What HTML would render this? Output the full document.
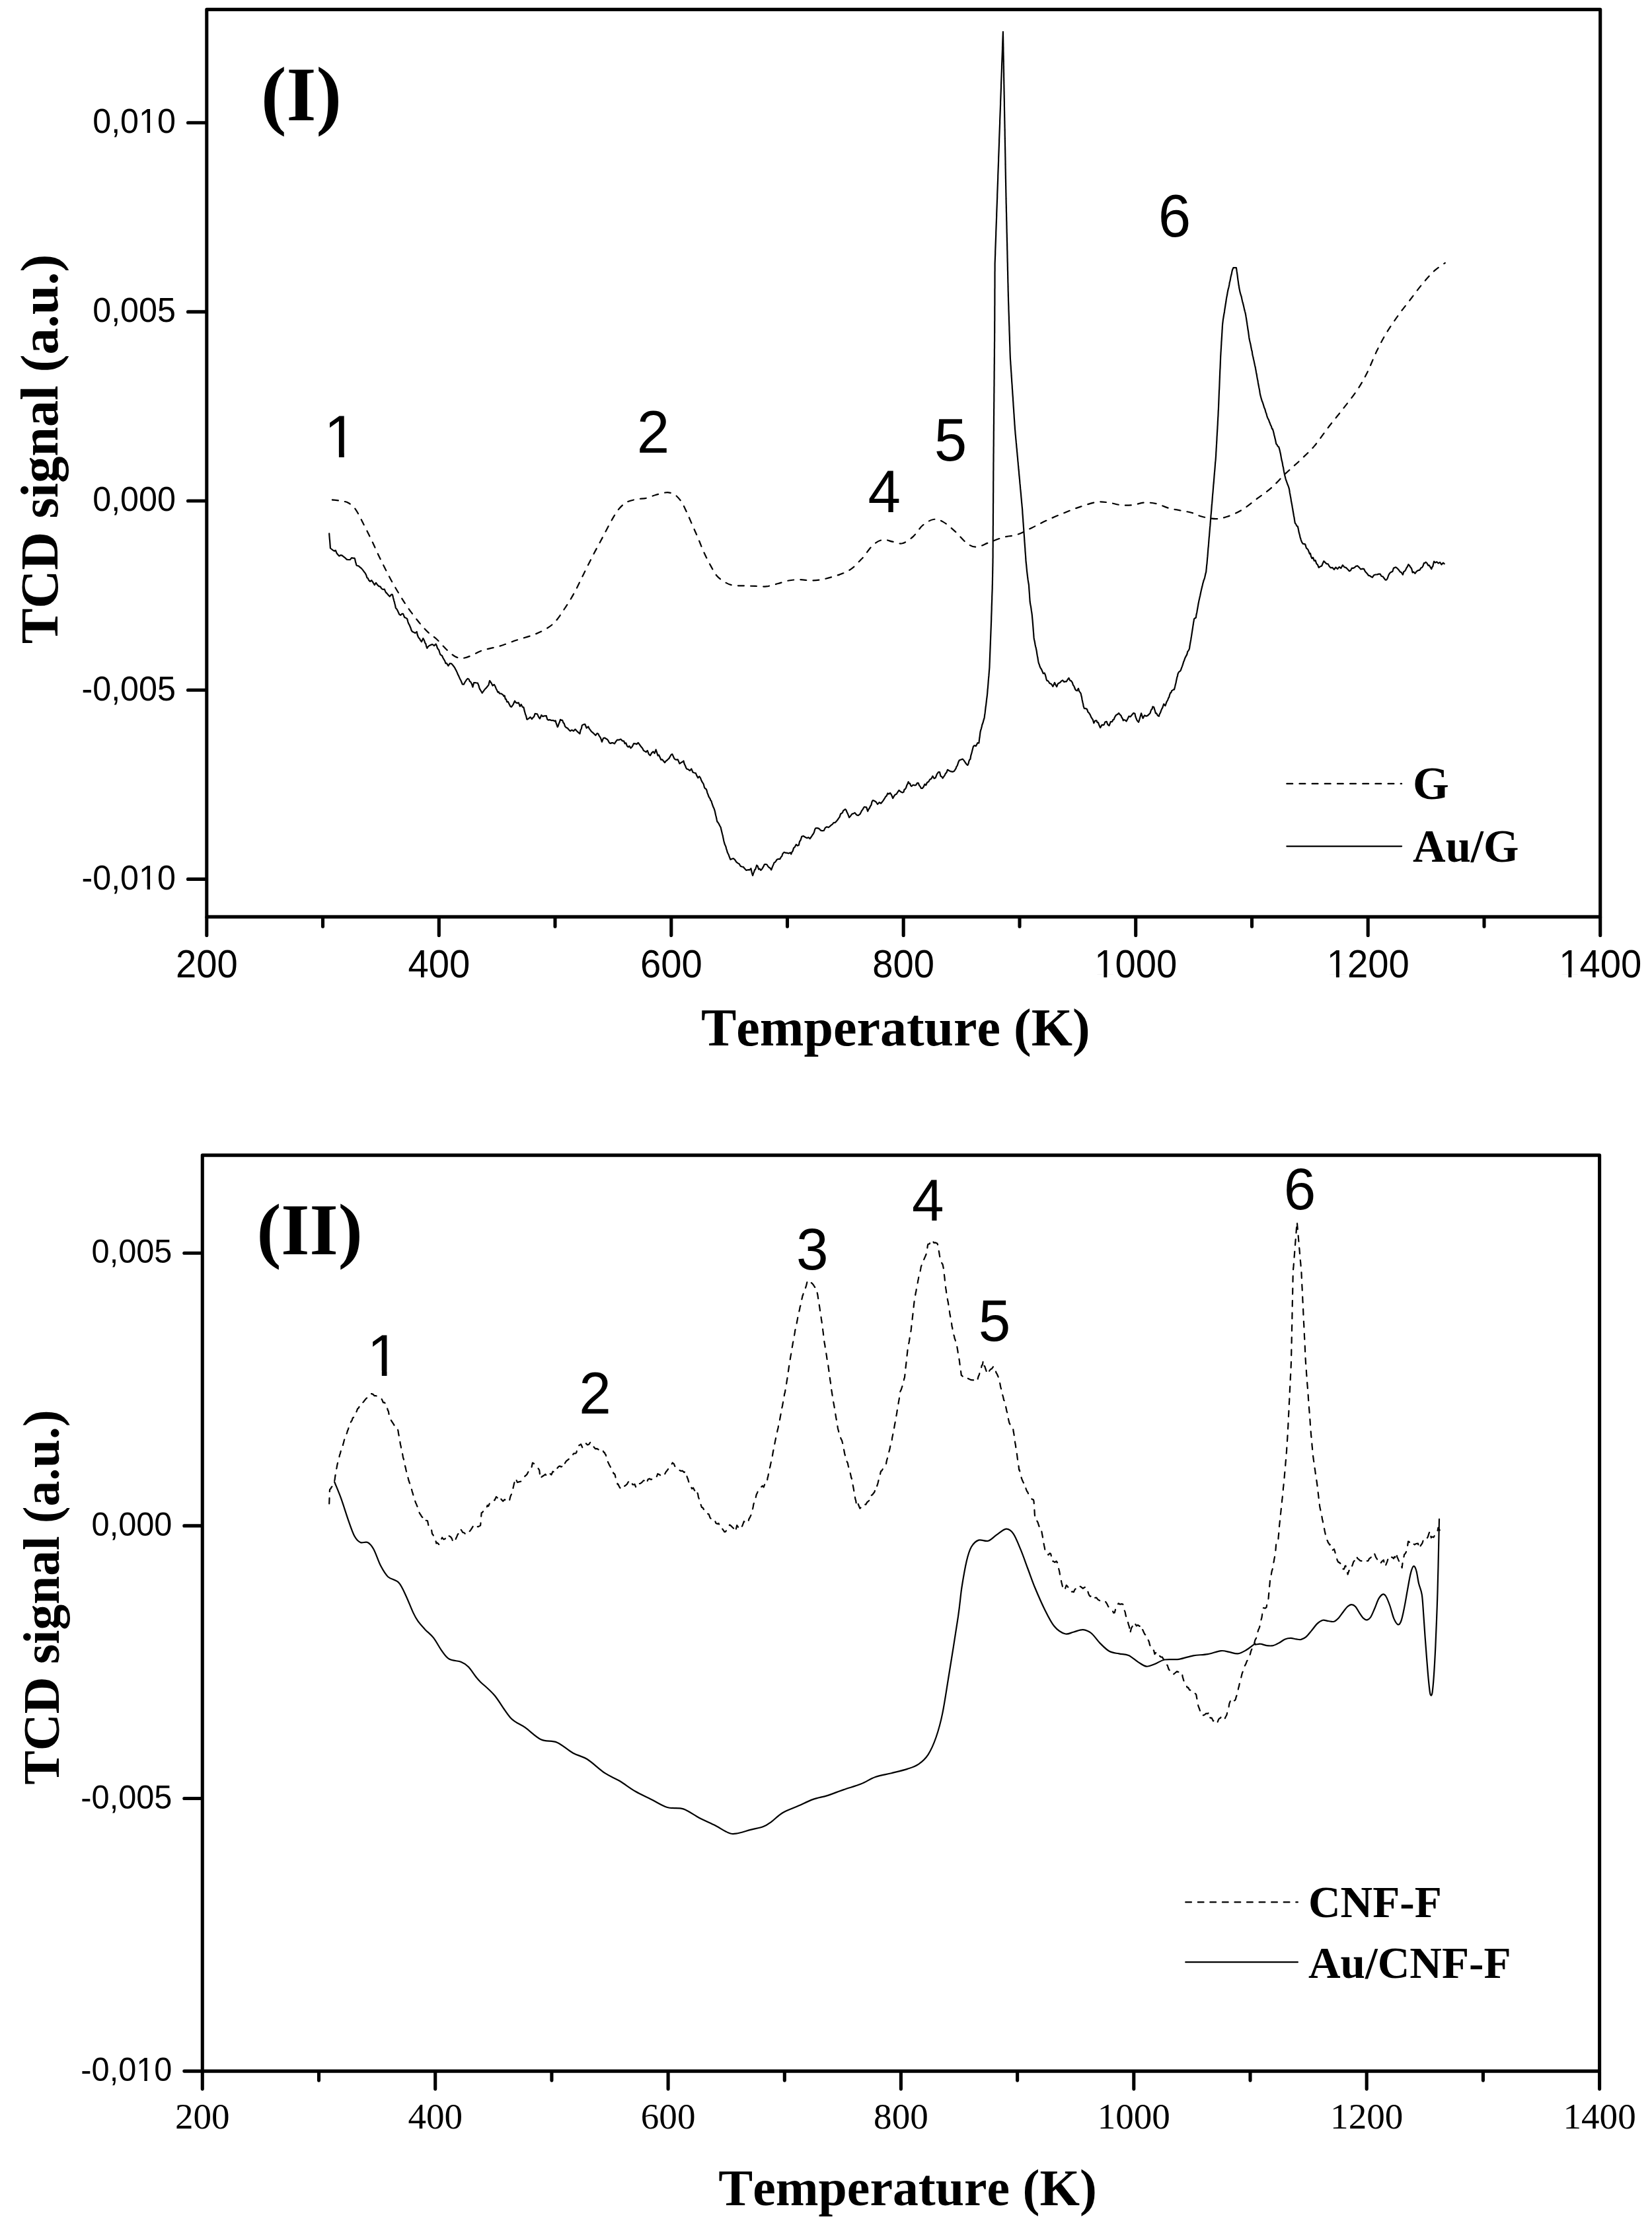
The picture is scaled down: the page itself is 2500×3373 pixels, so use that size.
<!DOCTYPE html>
<html lang="en"><head><meta charset="utf-8"><title>TCD signal vs Temperature</title>
<style>html,body{margin:0;padding:0;background:#fff;width:2500px;height:3373px;overflow:hidden}svg{display:block}text{font-kerning:none;font-variant-ligatures:none}</style></head>
<body>
<svg width="2500" height="3373" viewBox="0 0 2500 3373">
<rect width="2500" height="3373" fill="#fff"/>
<g fill="none" stroke="#000" stroke-width="5.1" stroke-linejoin="round">
<rect x="312.8" y="14.4" width="2108.8999999999996" height="1373.0"/>
<rect x="306.3" y="1748.1" width="2114.2999999999997" height="1386.0"/>
</g>
<g fill="none" stroke="#000" stroke-width="5.1" stroke-linecap="round">
<line x1="284.5" y1="185.7" x2="311.8" y2="185.7"/>
<line x1="284.5" y1="471.9" x2="311.8" y2="471.9"/>
<line x1="284.5" y1="758.0" x2="311.8" y2="758.0"/>
<line x1="284.5" y1="1044.2" x2="311.8" y2="1044.2"/>
<line x1="284.5" y1="1330.4" x2="311.8" y2="1330.4"/>
<line x1="312.8" y1="1388.4" x2="312.8" y2="1415.4"/>
<line x1="488.5" y1="1388.4" x2="488.5" y2="1401.9"/>
<line x1="664.3" y1="1388.4" x2="664.3" y2="1415.4"/>
<line x1="840.0" y1="1388.4" x2="840.0" y2="1401.9"/>
<line x1="1015.8" y1="1388.4" x2="1015.8" y2="1415.4"/>
<line x1="1191.5" y1="1388.4" x2="1191.5" y2="1401.9"/>
<line x1="1367.2" y1="1388.4" x2="1367.2" y2="1415.4"/>
<line x1="1543.0" y1="1388.4" x2="1543.0" y2="1401.9"/>
<line x1="1718.7" y1="1388.4" x2="1718.7" y2="1415.4"/>
<line x1="1894.5" y1="1388.4" x2="1894.5" y2="1401.9"/>
<line x1="2070.2" y1="1388.4" x2="2070.2" y2="1415.4"/>
<line x1="2246.0" y1="1388.4" x2="2246.0" y2="1401.9"/>
<line x1="2421.7" y1="1388.4" x2="2421.7" y2="1415.4"/>
<line x1="278.8" y1="1896.3" x2="305.3" y2="1896.3"/>
<line x1="278.8" y1="2308.9" x2="305.3" y2="2308.9"/>
<line x1="278.8" y1="2721.5" x2="305.3" y2="2721.5"/>
<line x1="278.8" y1="3134.1" x2="305.3" y2="3134.1"/>
<line x1="306.3" y1="3135.1" x2="306.3" y2="3161.1"/>
<line x1="482.5" y1="3135.1" x2="482.5" y2="3148.1"/>
<line x1="658.7" y1="3135.1" x2="658.7" y2="3161.1"/>
<line x1="834.9" y1="3135.1" x2="834.9" y2="3148.1"/>
<line x1="1011.1" y1="3135.1" x2="1011.1" y2="3161.1"/>
<line x1="1187.3" y1="3135.1" x2="1187.3" y2="3148.1"/>
<line x1="1363.4" y1="3135.1" x2="1363.4" y2="3161.1"/>
<line x1="1539.6" y1="3135.1" x2="1539.6" y2="3148.1"/>
<line x1="1715.8" y1="3135.1" x2="1715.8" y2="3161.1"/>
<line x1="1892.0" y1="3135.1" x2="1892.0" y2="3148.1"/>
<line x1="2068.2" y1="3135.1" x2="2068.2" y2="3161.1"/>
<line x1="2244.4" y1="3135.1" x2="2244.4" y2="3148.1"/>
<line x1="2420.6" y1="3135.1" x2="2420.6" y2="3161.1"/>
</g>
<text transform="translate(266.0,201.0) scale(1,1.04)" font-size="50.3" font-family="'Liberation Sans', sans-serif" text-anchor="end" font-weight="normal" >0,010</text>
<text transform="translate(266.0,487.2) scale(1,1.04)" font-size="50.3" font-family="'Liberation Sans', sans-serif" text-anchor="end" font-weight="normal" >0,005</text>
<text transform="translate(266.0,773.3) scale(1,1.04)" font-size="50.3" font-family="'Liberation Sans', sans-serif" text-anchor="end" font-weight="normal" >0,000</text>
<text transform="translate(266.0,1059.5) scale(1,1.04)" font-size="50.3" font-family="'Liberation Sans', sans-serif" text-anchor="end" font-weight="normal" >-0,005</text>
<text transform="translate(266.0,1345.7) scale(1,1.04)" font-size="50.3" font-family="'Liberation Sans', sans-serif" text-anchor="end" font-weight="normal" >-0,010</text>
<text transform="translate(260.4,1911.4) scale(1,1.04)" font-size="48.7" font-family="'Liberation Sans', sans-serif" text-anchor="end" font-weight="normal" >0,005</text>
<text transform="translate(260.4,2324.0) scale(1,1.04)" font-size="48.7" font-family="'Liberation Sans', sans-serif" text-anchor="end" font-weight="normal" >0,000</text>
<text transform="translate(260.4,2736.6) scale(1,1.04)" font-size="48.7" font-family="'Liberation Sans', sans-serif" text-anchor="end" font-weight="normal" >-0,005</text>
<text transform="translate(260.4,3149.2) scale(1,1.04)" font-size="48.7" font-family="'Liberation Sans', sans-serif" text-anchor="end" font-weight="normal" >-0,010</text>
<text transform="translate(312.8,1479.0) scale(1,1.04)" font-size="56.2" font-family="'Liberation Sans', sans-serif" text-anchor="middle" font-weight="normal" >200</text>
<text transform="translate(306.3,3221.2) scale(1,1.012)" font-size="55.1" font-family="'Liberation Serif', serif" text-anchor="middle" font-weight="normal" >200</text>
<text transform="translate(664.3,1479.0) scale(1,1.04)" font-size="56.2" font-family="'Liberation Sans', sans-serif" text-anchor="middle" font-weight="normal" >400</text>
<text transform="translate(658.7,3221.2) scale(1,1.012)" font-size="55.1" font-family="'Liberation Serif', serif" text-anchor="middle" font-weight="normal" >400</text>
<text transform="translate(1015.8,1479.0) scale(1,1.04)" font-size="56.2" font-family="'Liberation Sans', sans-serif" text-anchor="middle" font-weight="normal" >600</text>
<text transform="translate(1011.1,3221.2) scale(1,1.012)" font-size="55.1" font-family="'Liberation Serif', serif" text-anchor="middle" font-weight="normal" >600</text>
<text transform="translate(1367.2,1479.0) scale(1,1.04)" font-size="56.2" font-family="'Liberation Sans', sans-serif" text-anchor="middle" font-weight="normal" >800</text>
<text transform="translate(1363.4,3221.2) scale(1,1.012)" font-size="55.1" font-family="'Liberation Serif', serif" text-anchor="middle" font-weight="normal" >800</text>
<text transform="translate(1718.7,1479.0) scale(1,1.04)" font-size="56.2" font-family="'Liberation Sans', sans-serif" text-anchor="middle" font-weight="normal" >1000</text>
<text transform="translate(1715.8,3221.2) scale(1,1.012)" font-size="55.1" font-family="'Liberation Serif', serif" text-anchor="middle" font-weight="normal" >1000</text>
<text transform="translate(2070.2,1479.0) scale(1,1.04)" font-size="56.2" font-family="'Liberation Sans', sans-serif" text-anchor="middle" font-weight="normal" >1200</text>
<text transform="translate(2068.2,3221.2) scale(1,1.012)" font-size="55.1" font-family="'Liberation Serif', serif" text-anchor="middle" font-weight="normal" >1200</text>
<text transform="translate(2421.7,1479.0) scale(1,1.04)" font-size="56.2" font-family="'Liberation Sans', sans-serif" text-anchor="middle" font-weight="normal" >1400</text>
<text transform="translate(2420.6,3221.2) scale(1,1.012)" font-size="55.1" font-family="'Liberation Serif', serif" text-anchor="middle" font-weight="normal" >1400</text>
<text x="1355.3" y="1582.2" font-size="80" font-family="'Liberation Serif', serif" text-anchor="middle" font-weight="bold" >Temperature (K)</text>
<text x="1373.6" y="3336.6" font-size="77.8" font-family="'Liberation Serif', serif" text-anchor="middle" font-weight="bold" >Temperature (K)</text>
<text transform="translate(86.6,679.5) rotate(-90)" font-size="80.4" font-family="'Liberation Serif', serif" text-anchor="middle" font-weight="bold">TCD signal (a.u.)</text>
<text transform="translate(89,2417) rotate(-90)" font-size="77.4" font-family="'Liberation Serif', serif" text-anchor="middle" font-weight="bold">TCD signal (a.u.)</text>
<text x="395.0" y="182.0" font-size="115.5" font-family="'Liberation Serif', serif" text-anchor="start" font-weight="bold" >(I)</text>
<text x="388.4" y="1897.6" font-size="111" font-family="'Liberation Serif', serif" text-anchor="start" font-weight="bold" >(II)</text>
<text transform="translate(515.3,692.2) scale(1,1.025)" font-size="89" font-family="'Liberation Sans', sans-serif" text-anchor="middle" font-weight="normal" >1</text>
<text transform="translate(988.5,685.0) scale(1,1.025)" font-size="89" font-family="'Liberation Sans', sans-serif" text-anchor="middle" font-weight="normal" >2</text>
<text transform="translate(1338.2,774.8) scale(1,1.025)" font-size="89" font-family="'Liberation Sans', sans-serif" text-anchor="middle" font-weight="normal" >4</text>
<text transform="translate(1438.4,697.0) scale(1,1.025)" font-size="89" font-family="'Liberation Sans', sans-serif" text-anchor="middle" font-weight="normal" >5</text>
<text transform="translate(1777.4,358.3) scale(1,1.025)" font-size="89" font-family="'Liberation Sans', sans-serif" text-anchor="middle" font-weight="normal" >6</text>
<text transform="translate(580.1,2081.5) scale(1,1.025)" font-size="87.3" font-family="'Liberation Sans', sans-serif" text-anchor="middle" font-weight="normal" >1</text>
<text transform="translate(900.6,2138.5) scale(1,1.025)" font-size="87.3" font-family="'Liberation Sans', sans-serif" text-anchor="middle" font-weight="normal" >2</text>
<text transform="translate(1229.3,1920.5) scale(1,1.025)" font-size="87.3" font-family="'Liberation Sans', sans-serif" text-anchor="middle" font-weight="normal" >3</text>
<text transform="translate(1404.3,1847.3) scale(1,1.025)" font-size="87.3" font-family="'Liberation Sans', sans-serif" text-anchor="middle" font-weight="normal" >4</text>
<text transform="translate(1505.0,2029.2) scale(1,1.025)" font-size="87.3" font-family="'Liberation Sans', sans-serif" text-anchor="middle" font-weight="normal" >5</text>
<text transform="translate(1967.0,1829.9) scale(1,1.025)" font-size="87.3" font-family="'Liberation Sans', sans-serif" text-anchor="middle" font-weight="normal" >6</text>
<rect x="213.1" y="196.6" width="9.6" height="5.5" fill="#fff"/>
<rect x="227.1" y="196.6" width="9.2" height="5.5" fill="#fff"/>
<rect x="213.1" y="1341.3" width="9.6" height="5.5" fill="#fff"/>
<rect x="227.1" y="1341.3" width="9.2" height="5.5" fill="#fff"/>
<rect x="209.1" y="3144.9" width="9.3" height="5.4" fill="#fff"/>
<rect x="222.8" y="3144.9" width="9.0" height="5.4" fill="#fff"/>
<rect x="1659.7" y="1474.1" width="10.7" height="6.0" fill="#fff"/>
<rect x="1675.3" y="1474.1" width="10.2" height="6.0" fill="#fff"/>
<rect x="2011.2" y="1474.1" width="10.7" height="6.0" fill="#fff"/>
<rect x="2026.8" y="1474.1" width="10.2" height="6.0" fill="#fff"/>
<rect x="2362.7" y="1474.1" width="10.7" height="6.0" fill="#fff"/>
<rect x="2378.3" y="1474.1" width="10.2" height="6.0" fill="#fff"/>
<rect x="496.1" y="684.9" width="16.8" height="8.4" fill="#fff"/>
<rect x="520.8" y="684.9" width="16.1" height="8.4" fill="#fff"/>
<rect x="561.3" y="2074.3" width="16.5" height="8.3" fill="#fff"/>
<rect x="585.5" y="2074.3" width="15.8" height="8.3" fill="#fff"/>
<g fill="none" stroke="#000" stroke-width="2.2" stroke-linecap="round">
<line x1="1947.3" y1="1185.9" x2="2121.1" y2="1185.9" stroke-dasharray="8.9 10.25"/>
<line x1="1947.3" y1="1280.6" x2="2121.1" y2="1280.6"/>
<line x1="1794.2" y1="2878.45" x2="1963.9" y2="2878.45" stroke-dasharray="8.8 9.76"/>
<line x1="1794.2" y1="2969.2" x2="1963.9" y2="2969.2"/>
</g>
<text x="2138.0" y="1209.3" font-size="70.5" font-family="'Liberation Serif', serif" text-anchor="start" font-weight="bold" >G</text>
<text x="2138.0" y="1303.8" font-size="70.5" font-family="'Liberation Serif', serif" text-anchor="start" font-weight="bold" textLength="160.4" lengthAdjust="spacingAndGlyphs">Au/G</text>
<text x="1980.0" y="2901.0" font-size="67.3" font-family="'Liberation Serif', serif" text-anchor="start" font-weight="bold" >CNF-F</text>
<text x="1980.0" y="2992.6" font-size="67.3" font-family="'Liberation Serif', serif" text-anchor="start" font-weight="bold" >Au/CNF-F</text>
<g fill="none" stroke="#000" stroke-width="2.2" stroke-linejoin="round" stroke-linecap="round">
<path d="M502.9,756.3 C505.1,756.6 512.3,757.3 516.3,758.1 C520.4,758.9 523.6,758.9 527.2,761.0 C530.8,763.1 534.5,765.9 538.1,770.8 C541.7,775.8 545.1,783.2 549.0,790.8 C552.9,798.4 557.5,807.4 561.7,816.2 C566.0,825.0 569.9,834.1 574.4,843.5 C579.0,852.8 584.1,863.4 589.0,872.5 C593.8,881.6 598.9,890.4 603.5,897.9 C608.0,905.5 611.4,911.0 616.2,917.9 C621.0,924.9 627.4,933.4 632.5,939.7 C637.7,946.1 642.2,951.3 647.1,956.1 C651.9,960.8 656.8,963.5 661.6,968.0 C666.4,972.6 671.6,979.1 676.1,983.3 C680.7,987.5 684.9,991.3 688.8,993.5 C692.8,995.6 695.8,996.2 699.7,996.0 C703.7,995.8 707.3,994.4 712.4,992.4 C717.6,990.4 723.3,986.4 730.6,984.0 C737.9,981.6 747.6,980.4 756.0,977.8 C764.5,975.3 773.0,971.6 781.5,968.8 C789.9,965.9 799.6,963.5 806.9,960.8 C814.1,958.1 819.6,955.6 825.0,952.4 C830.5,949.2 834.7,946.7 839.6,941.5 C844.4,936.4 849.2,928.8 854.1,921.5 C858.9,914.3 863.8,906.7 868.6,897.9 C873.5,889.2 878.3,878.6 883.1,868.9 C888.0,859.2 892.8,849.2 897.7,839.8 C902.5,830.4 907.4,821.7 912.2,812.6 C917.0,803.5 922.5,792.6 926.7,785.4 C931.0,778.1 934.0,773.2 937.6,769.0 C941.3,764.8 944.3,762.2 948.5,759.9 C952.8,757.7 958.2,756.6 963.1,755.6 C967.9,754.5 972.7,754.8 977.6,753.8 C982.4,752.7 987.8,750.3 992.1,749.0 C996.4,747.7 1000.3,746.6 1003.6,746.0 C1007.0,745.4 1009.1,744.8 1012.1,745.3 C1015.1,745.8 1018.6,746.5 1021.8,748.9 C1025.0,751.3 1028.5,755.2 1031.5,759.8 C1034.5,764.4 1037.1,770.7 1040.0,776.8 C1042.8,782.8 1045.6,789.7 1048.4,796.1 C1051.3,802.6 1054.1,808.8 1056.9,815.5 C1059.7,822.2 1062.3,829.4 1065.4,836.1 C1068.4,842.7 1071.8,849.6 1075.1,855.4 C1078.3,861.3 1081.1,866.9 1084.7,871.2 C1088.4,875.4 1092.8,878.5 1096.9,880.9 C1100.9,883.3 1104.1,884.8 1109.0,885.7 C1113.8,886.6 1120.3,886.2 1125.9,886.4 C1131.6,886.6 1137.2,886.8 1142.9,886.9 C1148.5,887.1 1154.2,888.0 1159.8,887.4 C1165.5,886.8 1171.1,884.8 1176.8,883.3 C1182.4,881.8 1188.1,879.5 1193.7,878.5 C1199.4,877.4 1205.0,877.2 1210.7,877.2 C1216.3,877.2 1222.0,878.5 1227.6,878.5 C1233.3,878.4 1238.9,877.8 1244.6,876.8 C1250.2,875.7 1255.9,874.1 1261.5,872.4 C1267.2,870.7 1273.6,868.6 1278.5,866.3 C1283.3,864.1 1286.5,862.3 1290.6,859.1 C1294.6,855.9 1300.0,849.7 1302.7,847.0 C1305.3,844.3 1303.3,846.8 1306.5,843.0 C1309.7,839.2 1316.8,828.5 1321.8,824.1 C1326.8,819.7 1331.5,817.6 1336.3,816.8 C1341.2,816.1 1346.0,818.8 1350.8,819.7 C1355.7,820.6 1360.2,823.5 1365.4,822.3 C1370.5,821.0 1376.6,816.6 1381.7,812.1 C1386.9,807.6 1391.1,799.4 1396.2,795.0 C1401.4,790.7 1407.4,786.9 1412.6,786.0 C1417.7,785.0 1421.7,786.6 1427.1,789.6 C1432.6,792.6 1439.2,798.7 1445.3,804.1 C1451.3,809.6 1458.0,818.3 1463.4,822.3 C1468.9,826.2 1472.5,827.9 1478.0,827.7 C1483.4,827.5 1489.5,823.6 1496.1,821.2 C1502.8,818.8 1510.7,815.3 1517.9,813.2 C1525.2,811.1 1532.4,811.3 1539.7,808.8 C1547.0,806.4 1554.2,802.2 1561.5,798.7 C1568.8,795.2 1575.4,791.4 1583.3,787.8 C1591.2,784.1 1600.2,780.3 1608.7,776.9 C1617.2,773.4 1625.7,769.9 1634.1,767.1 C1642.6,764.2 1652.3,760.9 1659.6,759.8 C1666.8,758.7 1671.7,759.8 1677.7,760.5 C1683.8,761.3 1689.8,763.6 1695.9,764.2 C1701.9,764.8 1708.0,764.8 1714.0,764.2 C1720.1,763.6 1726.2,760.8 1732.2,760.5 C1738.3,760.2 1744.3,761.0 1750.4,762.3 C1756.4,763.7 1761.9,767.1 1768.5,768.9 C1775.2,770.7 1784.6,772.1 1790.3,773.2 C1796.0,774.4 1798.3,774.3 1802.9,775.7 C1807.5,777.0 1812.0,779.9 1818.2,781.5 C1824.3,783.1 1833.3,785.1 1840.0,785.1 C1846.6,785.1 1851.5,783.8 1858.1,781.5 C1864.8,779.2 1872.6,775.7 1879.9,771.3 C1887.2,766.9 1894.4,760.4 1901.7,755.0 C1909.0,749.5 1916.2,745.0 1923.5,738.6 C1930.8,732.3 1938.0,723.8 1945.3,716.8 C1952.5,709.9 1959.8,703.8 1967.1,696.9 C1974.3,689.9 1981.6,683.5 1988.9,675.1 C1996.1,666.6 2003.4,655.4 2010.7,646.0 C2017.9,636.6 2025.2,628.1 2032.4,618.8 C2039.7,609.4 2048.2,598.8 2054.2,589.7 C2060.3,580.6 2063.9,574.0 2068.8,564.3 C2073.6,554.6 2078.5,541.6 2083.3,531.6 C2088.1,521.6 2092.4,513.4 2097.8,504.4 C2103.3,495.3 2109.9,485.6 2116.0,477.1 C2122.0,468.6 2128.1,461.4 2134.1,453.5 C2140.2,445.6 2146.2,437.2 2152.3,429.9 C2158.4,422.6 2164.7,415.3 2170.5,409.9 C2176.2,404.6 2184.1,399.9 2186.8,397.9" stroke-dasharray="8.9 10.25"/>
<path d="M498.2,807.4 L498.4,810.5 L498.6,813.0 L498.8,815.6 L499.1,818.1 L499.3,820.8 L499.5,823.6 L499.7,826.1 L499.9,829.5 L501.8,831.0 L503.9,832.6 L505.9,833.8 L507.9,832.8 L509.8,837.6 L511.6,839.6 L513.4,841.4 L515.3,840.1 L517.4,840.3 L519.9,842.3 L522.3,844.2 L524.8,846.6 L527.3,847.0 L529.7,847.0 L532.1,844.2 L534.5,844.6 L536.5,844.7 L537.2,846.3 L537.9,849.9 L538.6,852.1 L539.3,855.0 L540.3,856.0 L542.5,856.4 L544.8,858.3 L547.0,860.1 L549.1,862.6 L550.4,864.5 L551.7,866.1 L552.9,867.7 L554.2,870.3 L555.4,874.2 L556.7,874.9 L558.0,877.9 L560.1,879.9 L562.3,878.2 L564.6,881.5 L566.8,885.2 L569.0,881.8 L571.1,885.0 L573.3,887.1 L575.5,887.6 L577.6,890.9 L579.7,892.0 L581.7,891.5 L583.7,896.1 L585.7,898.1 L587.7,900.5 L589.8,902.6 L592.2,899.7 L593.7,899.5 L594.3,901.2 L595.0,904.5 L595.6,906.6 L596.2,909.1 L596.9,911.2 L597.5,913.8 L598.2,916.5 L598.8,920.0 L599.5,920.7 L600.7,922.1 L602.5,925.8 L604.3,929.7 L606.2,930.9 L608.1,928.9 L610.1,928.8 L612.2,934.3 L614.2,935.1 L616.2,936.4 L617.3,940.8 L618.3,943.6 L619.4,945.4 L620.4,947.7 L621.5,950.2 L622.5,953.6 L623.8,955.7 L626.1,956.8 L628.4,957.9 L630.7,956.0 L631.8,961.0 L632.8,963.5 L633.8,965.6 L634.8,966.1 L635.9,968.4 L637.9,971.2 L640.3,966.0 L642.1,969.2 L643.2,973.0 L644.2,973.8 L645.2,978.1 L646.3,980.9 L648.1,978.1 L650.1,976.8 L652.0,975.9 L654.4,975.0 L657.0,977.1 L659.6,974.6 L660.8,977.0 L661.9,980.6 L663.0,982.3 L664.2,983.8 L665.3,987.5 L666.4,990.6 L667.6,991.4 L669.0,992.3 L670.4,995.5 L671.8,997.9 L673.1,1000.0 L674.5,1003.9 L675.9,1003.6 L678.3,1007.5 L680.8,1003.9 L683.4,1004.4 L686.0,1007.5 L687.6,1009.6 L688.7,1011.5 L689.7,1013.5 L690.8,1015.6 L691.9,1017.9 L692.9,1020.6 L694.0,1022.5 L695.1,1025.1 L696.3,1027.7 L697.4,1029.6 L698.6,1032.5 L699.8,1035.5 L701.8,1035.7 L703.8,1032.0 L705.9,1028.8 L707.9,1026.8 L709.6,1027.9 L711.0,1031.2 L712.5,1032.2 L713.9,1034.9 L715.4,1039.6 L717.1,1033.1 L719.1,1033.0 L721.1,1033.5 L722.8,1033.5 L723.7,1035.6 L724.5,1037.6 L725.3,1040.6 L726.2,1043.0 L727.1,1044.2 L729.7,1048.7 L732.2,1045.2 L734.5,1042.2 L736.2,1040.6 L737.8,1038.5 L739.4,1036.6 L741.0,1030.0 L743.2,1033.1 L745.5,1037.5 L747.8,1035.8 L749.5,1038.8 L750.8,1042.2 L752.1,1044.6 L753.4,1047.5 L754.7,1046.9 L756.0,1049.4 L758.5,1049.6 L761.1,1051.4 L762.5,1053.6 L763.6,1052.7 L764.8,1057.7 L766.0,1058.3 L767.2,1062.2 L768.9,1061.9 L770.6,1065.5 L772.4,1069.1 L774.1,1069.7 L775.3,1067.8 L776.6,1066.1 L777.8,1063.3 L779.0,1060.7 L780.6,1063.1 L782.7,1063.9 L784.8,1063.4 L786.9,1068.9 L788.7,1066.0 L790.6,1069.7 L792.4,1070.4 L793.1,1073.1 L793.7,1075.9 L794.4,1078.2 L795.1,1080.9 L795.8,1082.4 L796.5,1084.7 L797.2,1088.2 L798.0,1088.7 L800.3,1087.1 L802.6,1085.1 L804.9,1088.2 L806.5,1085.9 L808.1,1084.7 L809.7,1079.8 L811.3,1080.2 L813.2,1080.6 L815.0,1084.9 L817.0,1087.5 L819.3,1082.1 L821.5,1084.2 L823.6,1083.3 L825.1,1083.3 L826.7,1083.1 L828.2,1088.5 L829.8,1089.6 L831.9,1089.1 L834.4,1090.2 L837.0,1090.0 L839.5,1091.3 L840.6,1090.4 L841.6,1094.1 L842.6,1097.0 L843.7,1100.1 L844.6,1098.7 L845.5,1095.6 L846.3,1094.1 L847.2,1091.3 L848.0,1088.8 L848.9,1089.9 L850.1,1089.7 L851.2,1090.1 L852.4,1093.6 L853.6,1094.6 L855.1,1099.2 L856.9,1101.1 L858.8,1101.7 L860.6,1104.0 L862.9,1106.2 L865.4,1104.6 L868.0,1106.2 L870.5,1103.6 L872.9,1106.2 L875.2,1108.4 L877.5,1110.3 L878.7,1104.4 L879.8,1102.9 L880.8,1097.6 L882.7,1096.5 L885.2,1095.8 L887.7,1101.7 L890.2,1099.5 L891.9,1102.9 L893.5,1104.9 L895.1,1107.2 L896.8,1108.4 L898.8,1110.3 L901.3,1112.8 L903.8,1109.6 L905.5,1110.7 L906.5,1113.2 L907.6,1114.7 L908.6,1116.2 L909.6,1118.7 L910.9,1122.7 L913.0,1117.1 L915.1,1116.5 L917.1,1117.8 L918.7,1118.7 L920.0,1120.0 L921.4,1122.8 L922.7,1124.5 L924.1,1125.0 L925.7,1124.0 L927.8,1124.2 L929.9,1125.4 L932.0,1122.1 L934.1,1119.5 L936.7,1119.7 L939.3,1118.5 L941.9,1121.1 L944.0,1121.3 L945.7,1125.3 L947.3,1124.3 L949.0,1129.0 L950.7,1130.3 L952.4,1128.9 L954.6,1132.0 L956.8,1129.8 L959.1,1125.1 L961.3,1125.3 L963.5,1126.1 L965.8,1123.9 L967.6,1126.4 L969.1,1128.5 L970.7,1130.6 L972.2,1132.3 L973.8,1135.6 L975.8,1136.9 L977.8,1138.0 L979.8,1135.8 L981.8,1141.2 L984.0,1143.3 L986.2,1139.4 L988.4,1137.3 L990.6,1140.0 L992.6,1134.3 L994.1,1138.9 L995.6,1143.5 L997.1,1142.5 L998.6,1145.7 L1000.2,1149.7 L1002.1,1149.3 L1004.0,1151.5 L1006.0,1154.0 L1007.8,1151.6 L1009.4,1150.5 L1010.9,1149.0 L1012.5,1147.6 L1014.1,1144.7 L1015.6,1142.2 L1017.2,1141.1 L1018.7,1144.1 L1020.3,1147.7 L1021.8,1149.2 L1023.4,1149.7 L1025.8,1149.3 L1028.4,1155.6 L1031.0,1153.8 L1033.1,1152.8 L1034.4,1151.4 L1035.7,1156.1 L1037.0,1158.7 L1038.3,1162.1 L1039.6,1163.7 L1041.6,1164.3 L1044.0,1166.2 L1046.3,1163.4 L1048.6,1168.8 L1050.9,1169.5 L1052.8,1169.9 L1054.6,1174.1 L1056.4,1177.1 L1058.3,1174.9 L1060.0,1177.1 L1061.2,1180.5 L1062.4,1182.9 L1063.5,1184.7 L1064.7,1186.5 L1065.9,1191.3 L1067.0,1193.2 L1068.2,1193.6 L1069.3,1195.4 L1070.5,1200.1 L1071.5,1202.3 L1072.5,1205.3 L1073.5,1207.1 L1074.4,1208.2 L1075.4,1211.1 L1076.4,1212.0 L1077.3,1215.1 L1078.3,1218.1 L1079.3,1221.0 L1080.2,1222.7 L1081.2,1225.4 L1082.0,1228.2 L1082.5,1230.7 L1083.1,1233.4 L1083.7,1235.8 L1084.2,1238.1 L1084.8,1241.0 L1085.4,1243.4 L1086.7,1244.7 L1088.0,1246.9 L1089.4,1249.8 L1090.7,1252.0 L1091.3,1254.7 L1091.9,1257.2 L1092.5,1259.8 L1093.1,1262.2 L1093.7,1264.3 L1094.3,1267.4 L1094.9,1270.3 L1095.4,1272.7 L1096.0,1274.9 L1096.8,1277.7 L1097.6,1279.4 L1098.4,1281.1 L1099.2,1284.6 L1100.0,1286.7 L1100.9,1290.1 L1101.7,1291.6 L1102.5,1293.0 L1103.3,1295.4 L1105.3,1300.7 L1107.5,1299.8 L1109.8,1299.0 L1112.0,1300.9 L1114.3,1304.4 L1116.5,1306.1 L1118.6,1307.2 L1120.7,1310.7 L1122.7,1311.5 L1124.8,1311.8 L1126.8,1314.2 L1129.4,1316.9 L1132.0,1316.2 L1134.6,1316.3 L1136.4,1314.1 L1137.1,1317.3 L1137.7,1320.3 L1138.3,1322.4 L1139.1,1324.9 L1140.1,1321.6 L1141.1,1319.4 L1142.1,1316.2 L1143.1,1315.7 L1144.1,1312.7 L1145.1,1309.3 L1146.6,1310.5 L1148.1,1315.4 L1149.7,1314.7 L1151.3,1316.9 L1153.2,1315.0 L1155.0,1311.9 L1156.8,1308.2 L1158.7,1307.8 L1160.5,1308.2 L1162.2,1311.0 L1163.9,1312.7 L1165.6,1313.7 L1167.2,1316.4 L1168.4,1313.1 L1169.5,1310.4 L1170.6,1307.9 L1171.7,1305.2 L1173.3,1304.5 L1175.6,1300.8 L1178.0,1299.9 L1180.3,1299.9 L1182.1,1296.8 L1183.3,1295.5 L1184.4,1292.0 L1185.6,1290.6 L1186.8,1289.7 L1188.8,1290.6 L1191.2,1290.7 L1193.5,1291.4 L1195.9,1290.1 L1197.2,1292.5 L1198.5,1289.4 L1199.8,1287.6 L1201.0,1283.4 L1202.8,1281.8 L1204.8,1277.9 L1206.9,1279.8 L1208.9,1278.7 L1209.9,1273.9 L1210.8,1272.4 L1211.8,1270.8 L1213.3,1265.7 L1215.9,1265.1 L1218.4,1266.7 L1221.0,1268.1 L1223.6,1267.2 L1225.7,1269.2 L1226.9,1267.5 L1228.2,1265.7 L1229.5,1263.5 L1230.7,1262.0 L1232.0,1259.6 L1233.2,1254.9 L1234.7,1253.0 L1237.1,1253.1 L1239.5,1253.9 L1242.0,1256.6 L1244.3,1257.1 L1246.7,1256.9 L1249.0,1252.4 L1251.3,1251.2 L1253.6,1252.1 L1255.7,1250.6 L1257.6,1248.8 L1259.6,1247.4 L1261.6,1244.8 L1263.5,1245.0 L1265.5,1243.1 L1267.4,1240.8 L1269.2,1238.1 L1270.6,1236.4 L1272.1,1231.7 L1273.5,1230.8 L1274.9,1229.9 L1276.3,1226.4 L1277.7,1225.7 L1279.1,1224.5 L1280.3,1225.5 L1281.5,1228.5 L1282.7,1230.9 L1283.9,1233.9 L1285.1,1237.1 L1287.2,1234.7 L1289.3,1231.8 L1291.5,1231.1 L1293.6,1229.9 L1295.5,1232.3 L1297.2,1233.7 L1298.9,1234.0 L1300.4,1232.7 L1301.6,1231.8 L1302.9,1229.3 L1304.2,1226.6 L1305.4,1225.2 L1306.7,1222.8 L1307.9,1221.0 L1309.4,1221.3 L1311.3,1221.7 L1313.1,1227.7 L1314.7,1224.3 L1315.9,1222.8 L1317.2,1219.8 L1318.4,1218.3 L1319.6,1213.0 L1320.9,1211.1 L1322.8,1211.8 L1325.4,1213.2 L1328.0,1217.0 L1330.6,1214.2 L1333.2,1215.7 L1335.2,1213.3 L1336.8,1211.2 L1338.4,1208.7 L1340.1,1205.7 L1341.7,1204.3 L1343.4,1200.5 L1345.0,1201.5 L1347.1,1199.9 L1349.1,1202.8 L1351.2,1208.1 L1353.1,1204.5 L1354.9,1202.3 L1356.6,1201.8 L1358.4,1198.8 L1360.4,1195.8 L1362.9,1198.0 L1365.5,1199.4 L1367.4,1198.6 L1368.6,1194.6 L1369.8,1194.3 L1371.0,1192.3 L1372.2,1188.6 L1373.4,1186.2 L1374.6,1183.1 L1375.9,1185.6 L1377.1,1185.7 L1378.3,1188.9 L1379.6,1189.8 L1381.7,1187.8 L1383.8,1188.3 L1386.0,1188.2 L1388.1,1184.9 L1389.7,1184.8 L1391.1,1188.5 L1392.5,1190.1 L1393.9,1192.8 L1395.7,1193.0 L1397.6,1190.8 L1399.4,1186.7 L1401.2,1188.2 L1403.1,1184.0 L1405.1,1183.1 L1407.2,1179.5 L1409.3,1178.5 L1411.4,1174.4 L1413.6,1178.0 L1415.8,1176.9 L1417.9,1171.4 L1420.1,1168.4 L1422.0,1168.3 L1423.5,1174.5 L1425.1,1175.3 L1426.7,1177.5 L1428.1,1175.4 L1429.6,1173.4 L1431.0,1170.3 L1432.4,1169.1 L1433.9,1164.8 L1436.4,1166.3 L1439.0,1167.4 L1441.6,1167.9 L1444.2,1166.7 L1445.6,1164.3 L1446.6,1162.8 L1447.5,1160.0 L1448.5,1159.0 L1449.4,1156.3 L1450.4,1153.2 L1451.7,1150.5 L1454.3,1149.5 L1456.9,1148.6 L1459.0,1151.1 L1460.8,1154.0 L1462.6,1156.4 L1464.3,1157.9 L1465.4,1156.0 L1466.4,1151.8 L1467.4,1149.5 L1468.4,1148.9 L1469.1,1144.1 L1469.7,1141.8 L1470.4,1139.6 L1471.0,1137.2 L1471.6,1134.8 L1472.3,1132.0 L1472.9,1129.8 L1474.3,1128.1 L1476.9,1129.0 L1479.5,1124.1 L1481.3,1124.5 L1481.6,1122.9 L1481.9,1120.1 L1482.2,1117.5 L1482.6,1115.3 L1482.9,1112.5 L1483.2,1110.2 L1483.5,1107.8 L1484.1,1105.2 L1484.9,1102.8 L1485.6,1100.0 L1486.3,1096.7 L1487.1,1094.8 L1487.8,1092.7 L1488.5,1089.8 L1489.3,1087.4 L1489.8,1085.2 L1490.1,1082.2 L1490.5,1079.9 L1490.8,1077.7 L1491.1,1074.6 L1491.4,1072.1 L1491.7,1069.5 L1492.1,1067.3 L1492.4,1064.5 L1492.7,1062.0 L1493.0,1059.1 L1493.3,1056.6 L1493.7,1054.0 L1494.0,1051.1 L1494.2,1049.0 L1494.4,1046.4 L1494.6,1043.4 L1494.9,1041.1 L1495.1,1038.5 L1495.3,1036.0 L1495.5,1033.4 L1495.7,1030.5 L1495.9,1028.0 L1496.1,1025.7 L1496.4,1022.9 L1496.6,1020.2 L1496.8,1017.5 L1497.0,1014.9 L1497.2,1012.6 L1497.4,1010.2 L1497.5,1007.4 L1497.6,1004.8 L1497.7,1002.4 L1497.8,999.6 L1497.9,996.9 L1498.0,994.4 L1498.1,991.8 L1498.2,989.1 L1498.3,986.5 L1498.4,984.0 L1498.5,981.4 L1498.6,978.7 L1498.7,976.2 L1498.8,973.6 L1498.9,971.0 L1499.0,968.4 L1499.1,965.8 L1499.2,963.2 L1499.3,960.7 L1499.4,958.1 L1499.5,955.4 L1499.6,952.9 L1499.7,950.2 L1499.8,947.6 L1499.9,945.1 L1500.0,942.5 L1500.1,939.8 L1500.2,937.2 L1500.2,934.6 L1500.3,931.9 L1500.4,929.4 L1500.5,926.8 L1500.6,924.3 L1500.7,921.6 L1500.7,918.9 L1500.8,916.4 L1500.9,913.9 L1501.0,911.2 L1501.1,908.7 L1501.2,906.0 L1501.2,903.4 L1501.3,900.9 L1501.4,898.2 L1501.5,895.6 L1501.6,893.0 L1501.7,890.5 L1501.7,887.9 L1501.8,885.3 L1501.9,882.6 L1501.9,880.1 L1502.0,877.5 L1502.0,874.8 L1502.1,872.3 L1502.1,869.7 L1502.2,867.1 L1502.2,864.5 L1502.3,861.9 L1502.3,859.2 L1502.4,856.6 L1502.4,854.1 L1502.5,851.5 L1502.5,848.9 L1502.5,846.3 L1502.6,843.7 L1502.6,841.1 L1502.6,838.5 L1502.6,835.9 L1502.6,833.3 L1502.6,830.7 L1502.7,828.1 L1502.7,825.4 L1502.7,822.9 L1502.7,820.3 L1502.7,817.7 L1502.7,815.1 L1502.7,812.5 L1502.8,809.9 L1502.8,807.3 L1502.8,804.7 L1502.8,802.1 L1502.8,799.5 L1502.8,796.9 L1502.9,794.3 L1502.9,791.7 L1502.9,789.1 L1502.9,786.5 L1502.9,783.9 L1502.9,781.3 L1502.9,778.7 L1503.0,776.1 L1503.0,773.5 L1503.0,770.9 L1503.0,768.3 L1503.0,765.7 L1503.0,763.1 L1503.1,760.4 L1503.1,757.9 L1503.1,755.3 L1503.1,752.7 L1503.1,750.1 L1503.1,747.5 L1503.2,744.8 L1503.2,742.3 L1503.2,739.7 L1503.2,737.1 L1503.2,734.5 L1503.2,731.9 L1503.2,729.3 L1503.3,726.7 L1503.3,724.1 L1503.3,721.4 L1503.3,718.9 L1503.3,716.3 L1503.3,713.7 L1503.4,711.1 L1503.4,708.5 L1503.4,705.9 L1503.4,703.3 L1503.4,700.7 L1503.5,698.1 L1503.5,695.5 L1503.5,692.9 L1503.5,690.3 L1503.5,687.7 L1503.6,685.1 L1503.6,682.5 L1503.6,679.9 L1503.6,677.3 L1503.7,674.7 L1503.7,672.1 L1503.7,669.5 L1503.7,666.9 L1503.8,664.3 L1503.8,661.7 L1503.8,659.1 L1503.8,656.5 L1503.8,653.8 L1503.9,651.3 L1503.9,648.6 L1503.9,646.1 L1503.9,643.5 L1504.0,640.9 L1504.0,638.3 L1504.0,635.7 L1504.0,633.1 L1504.0,630.5 L1504.1,627.9 L1504.1,625.3 L1504.1,622.7 L1504.1,620.1 L1504.2,617.5 L1504.2,614.9 L1504.2,612.3 L1504.2,609.7 L1504.3,607.0 L1504.3,604.5 L1504.3,601.9 L1504.3,599.3 L1504.3,596.7 L1504.4,594.1 L1504.4,591.5 L1504.4,588.9 L1504.4,586.3 L1504.5,583.7 L1504.5,581.1 L1504.5,578.5 L1504.5,575.8 L1504.6,573.3 L1504.6,570.7 L1504.6,568.1 L1504.6,565.5 L1504.6,562.9 L1504.7,560.3 L1504.7,557.7 L1504.7,555.1 L1504.7,552.5 L1504.8,549.9 L1504.8,547.3 L1504.8,544.7 L1504.8,542.1 L1504.9,539.5 L1504.9,536.8 L1504.9,534.3 L1504.9,531.7 L1504.9,529.1 L1505.0,526.5 L1505.0,523.9 L1505.0,521.3 L1505.0,518.7 L1505.1,516.0 L1505.1,513.5 L1505.1,510.9 L1505.1,508.2 L1505.1,505.7 L1505.2,503.1 L1505.2,500.5 L1505.2,497.9 L1505.2,495.3 L1505.2,492.7 L1505.2,490.1 L1505.2,487.5 L1505.3,484.9 L1505.3,482.3 L1505.3,479.7 L1505.3,477.1 L1505.3,474.5 L1505.3,471.9 L1505.3,469.3 L1505.3,466.7 L1505.3,464.1 L1505.4,461.5 L1505.4,458.9 L1505.4,456.3 L1505.4,453.7 L1505.4,451.1 L1505.4,448.5 L1505.4,445.9 L1505.4,443.3 L1505.4,440.7 L1505.4,438.1 L1505.5,435.5 L1505.5,432.9 L1505.5,430.3 L1505.5,427.7 L1505.5,425.1 L1505.5,422.5 L1505.5,419.9 L1505.5,417.3 L1505.5,414.7 L1505.5,412.1 L1505.6,409.5 L1505.6,406.9 L1505.6,404.3 L1505.6,401.7 L1505.6,399.1 L1505.7,396.4 L1505.8,394.0 L1505.9,391.3 L1506.0,388.8 L1506.1,386.1 L1506.2,383.5 L1506.2,381.0 L1506.3,378.2 L1506.4,375.6 L1506.5,373.1 L1506.6,370.5 L1506.7,367.9 L1506.8,365.4 L1506.9,362.7 L1507.0,360.0 L1507.1,357.5 L1507.2,354.8 L1507.2,352.4 L1507.3,349.7 L1507.4,347.1 L1507.5,344.6 L1507.6,341.9 L1507.7,339.2 L1507.8,336.6 L1507.9,334.2 L1508.0,331.6 L1508.1,328.9 L1508.2,326.4 L1508.2,323.8 L1508.3,321.2 L1508.4,318.4 L1508.5,315.9 L1508.6,313.4 L1508.7,310.8 L1508.8,308.2 L1508.9,305.4 L1509.0,302.9 L1509.1,300.4 L1509.2,297.9 L1509.2,295.1 L1509.3,292.5 L1509.4,289.9 L1509.5,287.4 L1509.6,284.7 L1509.7,282.2 L1509.8,279.5 L1509.9,277.0 L1510.0,274.3 L1510.1,271.8 L1510.2,269.1 L1510.2,266.4 L1510.3,264.0 L1510.4,261.4 L1510.5,258.7 L1510.6,256.2 L1510.7,253.6 L1510.8,250.9 L1510.9,248.4 L1511.0,245.8 L1511.1,243.2 L1511.1,240.6 L1511.2,237.8 L1511.3,235.4 L1511.4,232.8 L1511.5,230.2 L1511.6,227.6 L1511.7,225.0 L1511.8,222.4 L1511.9,219.7 L1512.0,217.1 L1512.1,214.5 L1512.1,211.9 L1512.2,209.3 L1512.3,206.8 L1512.4,204.1 L1512.5,201.6 L1512.6,198.9 L1512.7,196.4 L1512.8,193.9 L1512.9,191.2 L1513.0,188.6 L1513.1,186.0 L1513.1,183.4 L1513.2,180.7 L1513.3,178.1 L1513.4,175.6 L1513.5,173.0 L1513.6,170.4 L1513.7,167.9 L1513.8,165.3 L1513.9,162.7 L1514.0,160.1 L1514.1,157.4 L1514.1,154.8 L1514.2,152.2 L1514.3,149.6 L1514.4,147.0 L1514.5,144.3 L1514.6,141.8 L1514.7,139.2 L1514.8,136.6 L1514.9,134.0 L1515.0,131.5 L1515.0,128.8 L1515.1,126.4 L1515.2,123.5 L1515.3,121.0 L1515.4,118.3 L1515.5,115.9 L1515.6,113.4 L1515.7,110.5 L1515.8,108.0 L1515.9,105.5 L1516.0,102.8 L1516.0,100.3 L1516.1,97.5 L1516.2,95.1 L1516.3,92.5 L1516.4,89.9 L1516.5,87.2 L1516.6,84.7 L1516.7,82.0 L1516.8,79.5 L1516.9,76.8 L1517.0,74.1 L1517.0,71.6 L1517.1,69.1 L1517.2,66.5 L1517.3,63.8 L1517.4,61.3 L1517.5,58.7 L1517.6,56.1 L1517.7,53.6 L1517.8,51.0 L1517.9,48.2 L1517.9,48.6 L1518.0,51.3 L1518.0,54.0 L1518.1,56.6 L1518.1,59.1 L1518.2,61.7 L1518.2,64.3 L1518.3,66.9 L1518.3,69.5 L1518.4,72.0 L1518.4,74.7 L1518.4,77.4 L1518.5,80.0 L1518.5,82.5 L1518.6,85.1 L1518.6,87.7 L1518.7,90.3 L1518.7,92.9 L1518.8,95.5 L1518.8,98.1 L1518.9,100.7 L1518.9,103.3 L1519.0,105.9 L1519.0,108.5 L1519.1,111.1 L1519.1,113.7 L1519.1,116.3 L1519.2,118.8 L1519.2,121.4 L1519.3,124.0 L1519.3,126.7 L1519.4,129.3 L1519.4,131.9 L1519.5,134.5 L1519.5,137.1 L1519.6,139.7 L1519.6,142.3 L1519.7,144.8 L1519.7,147.5 L1519.8,150.1 L1519.8,152.7 L1519.9,155.3 L1519.9,157.9 L1519.9,160.5 L1520.0,163.1 L1520.0,165.7 L1520.1,168.3 L1520.1,170.9 L1520.2,173.5 L1520.2,176.1 L1520.3,178.7 L1520.3,181.3 L1520.4,183.9 L1520.4,186.5 L1520.5,189.2 L1520.5,191.7 L1520.6,194.3 L1520.6,196.9 L1520.7,199.5 L1520.7,202.1 L1520.7,204.6 L1520.8,207.3 L1520.8,209.9 L1520.9,212.5 L1520.9,215.1 L1521.0,217.7 L1521.0,220.3 L1521.1,222.9 L1521.1,225.4 L1521.2,228.1 L1521.2,230.7 L1521.3,233.3 L1521.3,236.0 L1521.4,238.5 L1521.4,241.1 L1521.5,243.7 L1521.5,246.3 L1521.5,248.9 L1521.6,251.5 L1521.6,254.1 L1521.7,256.7 L1521.7,259.3 L1521.8,261.9 L1521.8,264.5 L1521.9,267.1 L1521.9,269.6 L1522.0,272.3 L1522.0,274.9 L1522.1,277.5 L1522.1,280.1 L1522.2,282.7 L1522.2,285.3 L1522.3,287.9 L1522.3,290.5 L1522.4,293.0 L1522.4,295.7 L1522.5,298.3 L1522.5,300.9 L1522.6,303.4 L1522.6,306.1 L1522.7,308.6 L1522.8,311.3 L1522.8,313.9 L1522.9,316.5 L1522.9,319.1 L1523.0,321.6 L1523.1,324.3 L1523.1,326.8 L1523.2,329.4 L1523.2,332.0 L1523.3,334.6 L1523.4,337.2 L1523.4,339.8 L1523.5,342.5 L1523.5,345.0 L1523.6,347.6 L1523.6,350.3 L1523.7,352.9 L1523.8,355.5 L1523.8,358.1 L1523.9,360.6 L1523.9,363.2 L1524.0,365.9 L1524.1,368.5 L1524.1,370.9 L1524.2,373.6 L1524.2,376.2 L1524.3,378.9 L1524.4,381.4 L1524.4,384.0 L1524.5,386.7 L1524.5,389.2 L1524.6,391.8 L1524.6,394.4 L1524.7,396.9 L1524.8,399.5 L1524.8,402.2 L1524.9,404.8 L1524.9,407.4 L1525.0,410.0 L1525.1,412.6 L1525.1,415.2 L1525.2,417.8 L1525.2,420.4 L1525.3,423.1 L1525.3,425.7 L1525.4,428.3 L1525.5,430.9 L1525.5,433.4 L1525.6,436.1 L1525.6,438.7 L1525.7,441.2 L1525.8,443.9 L1525.8,446.4 L1525.9,449.0 L1526.0,451.6 L1526.0,454.1 L1526.1,456.8 L1526.2,459.3 L1526.3,462.1 L1526.4,464.7 L1526.4,467.2 L1526.5,469.9 L1526.6,472.5 L1526.7,474.9 L1526.8,477.7 L1526.9,480.3 L1526.9,483.0 L1527.0,485.4 L1527.1,488.0 L1527.2,490.6 L1527.3,493.2 L1527.4,495.8 L1527.4,498.5 L1527.5,500.9 L1527.6,503.5 L1527.7,506.1 L1527.8,508.7 L1527.9,511.3 L1527.9,514.0 L1528.0,516.6 L1528.1,519.2 L1528.2,521.8 L1528.3,524.4 L1528.4,527.0 L1528.4,529.6 L1528.5,532.2 L1528.6,534.8 L1528.7,537.5 L1528.8,540.0 L1528.9,542.6 L1529.1,545.3 L1529.3,547.8 L1529.4,550.5 L1529.6,552.8 L1529.8,555.7 L1529.9,558.2 L1530.1,560.5 L1530.3,563.4 L1530.5,565.8 L1530.6,568.7 L1530.8,571.1 L1531.0,573.7 L1531.1,576.3 L1531.3,578.9 L1531.5,581.5 L1531.7,584.0 L1531.8,586.8 L1532.0,589.3 L1532.2,591.9 L1532.3,594.1 L1532.5,597.1 L1532.7,599.7 L1532.9,602.0 L1533.0,604.8 L1533.2,607.5 L1533.4,610.2 L1533.5,612.5 L1533.7,615.4 L1533.9,617.8 L1534.1,620.7 L1534.2,623.0 L1534.4,625.7 L1534.6,628.2 L1534.7,630.6 L1534.9,633.5 L1535.1,636.1 L1535.3,638.8 L1535.4,641.3 L1535.6,643.7 L1535.8,646.1 L1535.9,648.8 L1536.2,651.4 L1536.4,654.0 L1536.6,656.8 L1536.9,659.4 L1537.1,661.9 L1537.3,664.5 L1537.6,667.1 L1537.8,669.7 L1538.1,672.4 L1538.3,675.0 L1538.5,677.3 L1538.8,679.7 L1539.0,682.8 L1539.3,685.3 L1539.5,688.0 L1539.7,690.1 L1540.0,692.9 L1540.2,695.5 L1540.4,697.9 L1540.7,700.6 L1540.9,703.4 L1541.2,706.1 L1541.4,708.8 L1541.6,711.0 L1541.9,713.4 L1542.1,716.3 L1542.3,719.0 L1542.6,721.5 L1542.8,723.8 L1543.1,726.7 L1543.3,729.4 L1543.5,731.9 L1543.8,734.3 L1544.0,737.0 L1544.2,739.7 L1544.5,742.1 L1544.7,744.4 L1545.0,747.3 L1545.2,750.0 L1545.4,752.5 L1545.7,755.3 L1545.9,757.6 L1546.1,760.3 L1546.4,762.8 L1546.6,765.5 L1546.9,768.3 L1547.1,770.7 L1547.3,773.5 L1547.4,776.1 L1547.6,778.6 L1547.8,781.1 L1548.0,783.9 L1548.2,786.2 L1548.3,788.8 L1548.5,791.2 L1548.7,794.0 L1548.9,796.8 L1549.1,799.3 L1549.3,801.8 L1549.4,804.3 L1549.6,807.0 L1549.8,809.4 L1550.0,812.2 L1550.2,814.7 L1550.3,817.2 L1550.5,819.8 L1550.7,822.4 L1550.9,825.2 L1551.1,827.9 L1551.3,830.1 L1551.4,833.0 L1551.6,835.6 L1551.8,838.0 L1552.0,840.5 L1552.2,843.1 L1552.3,845.7 L1552.5,848.5 L1552.7,851.0 L1553.0,853.2 L1553.3,856.2 L1553.5,858.5 L1553.8,861.5 L1554.0,863.8 L1554.3,866.4 L1554.6,868.9 L1554.9,871.5 L1555.3,874.6 L1555.6,877.2 L1556.0,879.7 L1556.4,882.1 L1556.8,884.2 L1557.1,887.0 L1557.2,889.7 L1557.4,892.2 L1557.6,895.0 L1557.8,897.5 L1558.0,900.0 L1558.1,902.6 L1558.3,905.0 L1558.5,907.9 L1558.7,910.8 L1559.1,913.2 L1559.5,915.4 L1559.9,917.3 L1560.4,920.7 L1560.8,923.7 L1561.2,926.1 L1561.6,928.8 L1561.9,931.4 L1562.1,933.9 L1562.3,936.2 L1562.6,939.0 L1562.8,941.6 L1563.0,943.8 L1563.2,946.5 L1563.4,949.0 L1563.6,951.7 L1563.8,954.5 L1564.0,956.8 L1564.2,959.2 L1564.4,962.3 L1564.6,964.9 L1565.0,967.8 L1565.5,969.5 L1566.1,972.7 L1566.6,975.8 L1567.2,978.5 L1567.7,980.1 L1568.2,982.7 L1568.7,985.1 L1569.1,988.0 L1569.5,990.6 L1569.9,992.9 L1570.4,995.0 L1570.8,998.1 L1571.2,1000.4 L1571.8,1003.4 L1572.8,1005.7 L1573.8,1009.1 L1574.9,1011.3 L1575.9,1012.5 L1577.1,1015.2 L1578.8,1019.2 L1580.6,1018.5 L1581.9,1021.2 L1582.6,1024.0 L1583.2,1026.6 L1583.8,1028.8 L1584.4,1029.9 L1586.2,1030.5 L1588.4,1034.0 L1590.9,1035.0 L1593.4,1038.8 L1596.0,1033.0 L1597.7,1036.7 L1599.2,1039.2 L1600.8,1034.9 L1602.3,1033.7 L1604.0,1033.0 L1606.1,1030.7 L1608.1,1029.4 L1610.1,1031.8 L1612.0,1031.4 L1613.9,1031.3 L1615.7,1028.3 L1617.5,1026.0 L1619.3,1029.7 L1621.1,1030.4 L1622.9,1033.1 L1623.9,1036.5 L1625.0,1037.9 L1626.0,1040.0 L1627.1,1043.0 L1628.1,1044.4 L1630.1,1045.3 L1631.9,1041.8 L1633.2,1046.1 L1634.5,1047.6 L1635.7,1049.5 L1636.5,1053.4 L1637.0,1055.0 L1637.5,1058.4 L1638.0,1060.7 L1638.6,1063.5 L1639.1,1065.2 L1639.6,1068.7 L1640.9,1072.2 L1642.9,1072.0 L1645.0,1073.2 L1646.5,1077.6 L1647.5,1078.2 L1648.6,1079.8 L1649.8,1081.7 L1651.1,1084.9 L1652.5,1087.2 L1653.9,1089.2 L1655.3,1094.3 L1657.3,1090.5 L1659.3,1090.3 L1660.6,1093.2 L1662.0,1093.3 L1663.3,1097.3 L1665.1,1101.2 L1667.6,1096.9 L1670.1,1097.2 L1671.1,1096.0 L1672.1,1093.0 L1673.2,1092.3 L1674.7,1091.9 L1676.3,1096.4 L1678.5,1098.1 L1680.8,1092.0 L1683.1,1092.2 L1684.4,1089.0 L1685.6,1088.8 L1686.8,1085.6 L1688.0,1083.5 L1689.4,1081.7 L1691.3,1080.9 L1693.1,1079.1 L1694.8,1081.4 L1696.5,1082.9 L1697.6,1085.8 L1698.7,1087.2 L1699.8,1090.4 L1700.8,1089.2 L1702.7,1089.8 L1704.5,1091.5 L1706.4,1087.9 L1708.4,1083.8 L1710.7,1084.6 L1713.0,1081.7 L1715.3,1079.0 L1717.4,1079.8 L1718.4,1084.4 L1719.3,1086.8 L1720.2,1088.9 L1721.1,1090.7 L1722.0,1091.5 L1723.0,1092.8 L1724.0,1089.9 L1725.0,1086.5 L1726.0,1083.0 L1727.1,1079.3 L1729.6,1087.0 L1732.1,1082.5 L1734.5,1083.7 L1736.7,1082.9 L1738.8,1080.9 L1740.6,1079.0 L1741.5,1075.9 L1742.5,1073.6 L1743.5,1073.1 L1744.4,1069.3 L1745.4,1069.7 L1746.2,1070.0 L1747.1,1073.1 L1748.0,1076.0 L1748.8,1079.3 L1750.2,1079.4 L1752.1,1082.9 L1753.8,1083.9 L1754.9,1080.3 L1756.0,1078.7 L1757.1,1075.4 L1758.1,1072.9 L1759.2,1071.1 L1761.1,1065.3 L1763.4,1068.0 L1764.3,1065.7 L1765.2,1062.8 L1766.1,1061.0 L1767.1,1059.5 L1768.1,1056.5 L1769.1,1055.2 L1770.1,1051.3 L1771.2,1048.4 L1772.2,1048.1 L1773.2,1045.3 L1774.3,1044.6 L1776.1,1043.3 L1777.0,1043.5 L1777.7,1040.7 L1778.3,1038.3 L1778.9,1035.6 L1779.5,1033.5 L1780.1,1030.2 L1780.7,1027.4 L1781.3,1024.6 L1781.9,1023.2 L1782.5,1019.8 L1784.0,1016.8 L1786.1,1015.4 L1787.0,1013.9 L1787.9,1011.1 L1788.7,1009.1 L1789.6,1006.6 L1790.4,1004.1 L1791.2,1001.4 L1792.1,999.5 L1792.9,996.9 L1793.8,994.8 L1795.0,992.6 L1796.2,990.4 L1797.3,986.0 L1798.5,984.6 L1799.6,982.5 L1800.1,980.7 L1800.5,977.5 L1800.9,975.1 L1801.3,972.7 L1801.8,970.1 L1802.2,968.0 L1802.6,965.1 L1803.0,962.9 L1803.5,959.6 L1803.9,956.9 L1804.2,955.1 L1804.6,952.5 L1805.0,949.9 L1805.4,947.2 L1805.8,944.8 L1806.2,941.7 L1806.6,939.7 L1807.0,936.7 L1807.8,936.0 L1809.9,934.5 L1810.3,931.0 L1810.8,928.5 L1811.3,926.7 L1811.7,923.9 L1812.2,921.2 L1812.6,918.9 L1813.1,916.1 L1813.5,913.5 L1814.0,911.1 L1814.5,908.6 L1815.0,906.6 L1815.6,903.6 L1816.1,901.7 L1816.6,899.2 L1817.1,896.7 L1817.7,894.0 L1818.4,891.0 L1819.0,888.4 L1819.7,885.7 L1820.3,882.9 L1821.0,880.6 L1821.7,877.9 L1822.4,876.5 L1823.2,873.7 L1823.9,870.6 L1824.6,867.3 L1825.2,865.6 L1825.4,863.0 L1825.7,860.3 L1825.9,857.7 L1826.2,854.9 L1826.5,852.8 L1826.7,850.2 L1826.9,848.0 L1827.1,845.1 L1827.4,842.4 L1827.6,840.1 L1827.8,837.3 L1828.0,834.7 L1828.2,832.0 L1828.4,829.4 L1828.7,827.1 L1828.9,824.5 L1829.1,822.0 L1829.3,819.1 L1829.5,816.5 L1829.7,813.8 L1830.0,811.5 L1830.2,808.5 L1830.4,806.2 L1830.6,803.7 L1830.8,801.2 L1831.0,798.3 L1831.3,795.9 L1831.5,793.1 L1831.7,790.5 L1831.9,787.8 L1832.1,785.6 L1832.3,783.1 L1832.5,780.2 L1832.8,777.5 L1833.0,775.0 L1833.2,772.8 L1833.4,770.1 L1833.6,767.2 L1833.8,764.4 L1834.1,761.9 L1834.3,759.7 L1834.5,757.2 L1834.7,754.3 L1834.9,751.6 L1835.1,749.0 L1835.4,746.2 L1835.6,744.0 L1835.8,741.2 L1836.0,738.9 L1836.2,735.9 L1836.4,733.3 L1836.7,731.0 L1836.9,728.3 L1837.1,725.9 L1837.3,723.3 L1837.5,720.5 L1837.7,718.1 L1837.9,715.6 L1838.2,712.6 L1838.4,710.5 L1838.6,707.8 L1838.8,705.2 L1839.0,702.2 L1839.2,699.7 L1839.5,697.2 L1839.7,694.9 L1839.9,692.0 L1840.1,689.4 L1840.2,686.7 L1840.3,684.3 L1840.5,681.8 L1840.6,679.0 L1840.8,676.5 L1840.9,674.0 L1841.1,671.5 L1841.2,668.9 L1841.4,666.2 L1841.5,663.5 L1841.6,660.9 L1841.8,658.3 L1841.9,655.8 L1842.1,653.2 L1842.2,650.8 L1842.4,648.1 L1842.5,645.3 L1842.7,643.0 L1842.8,640.3 L1842.9,637.7 L1843.1,635.0 L1843.2,632.2 L1843.4,629.7 L1843.5,627.3 L1843.6,624.6 L1843.7,621.9 L1843.9,619.4 L1844.0,616.9 L1844.1,614.3 L1844.2,611.7 L1844.3,609.2 L1844.4,606.4 L1844.5,603.9 L1844.6,601.2 L1844.7,598.7 L1844.8,596.1 L1844.9,593.5 L1845.0,591.0 L1845.2,588.3 L1845.3,585.8 L1845.4,583.2 L1845.5,580.5 L1845.6,577.8 L1845.7,575.2 L1845.8,572.6 L1845.9,570.1 L1846.0,567.5 L1846.1,565.1 L1846.2,562.4 L1846.3,559.8 L1846.5,557.1 L1846.6,554.4 L1846.7,551.9 L1846.8,549.3 L1846.9,546.6 L1847.0,544.2 L1847.1,541.5 L1847.2,539.0 L1847.4,536.1 L1847.5,533.7 L1847.7,531.2 L1847.8,528.6 L1848.0,526.0 L1848.1,523.4 L1848.3,520.8 L1848.4,517.9 L1848.6,515.4 L1848.8,512.7 L1848.9,510.4 L1849.1,507.8 L1849.2,505.2 L1849.4,502.5 L1849.5,499.9 L1849.7,497.6 L1849.8,495.0 L1850.0,492.2 L1850.2,489.9 L1850.6,486.7 L1850.9,483.8 L1851.3,481.6 L1851.7,479.0 L1852.1,476.5 L1852.5,474.2 L1852.9,472.5 L1853.3,469.0 L1853.7,466.5 L1854.1,464.0 L1854.5,461.3 L1854.9,459.0 L1855.3,456.8 L1855.7,453.4 L1856.1,451.1 L1856.6,448.4 L1857.1,446.1 L1857.6,442.8 L1858.2,440.1 L1858.7,437.3 L1859.2,435.8 L1859.8,433.3 L1860.3,430.7 L1860.8,427.2 L1861.4,425.3 L1861.9,422.7 L1862.4,419.9 L1862.9,417.5 L1863.5,415.6 L1864.0,413.1 L1864.5,410.4 L1865.1,408.2 L1866.4,405.2 L1868.9,405.1 L1870.9,405.1 L1871.3,407.7 L1871.6,410.2 L1872.0,412.7 L1872.4,415.3 L1872.7,417.7 L1873.1,421.0 L1873.4,423.3 L1873.8,425.8 L1874.2,428.8 L1874.5,431.3 L1874.9,433.0 L1875.3,436.1 L1875.9,438.8 L1876.5,441.9 L1877.2,444.3 L1877.8,446.5 L1878.4,448.1 L1879.0,450.6 L1879.6,453.6 L1880.2,456.3 L1880.8,458.2 L1881.5,460.9 L1882.1,463.5 L1882.7,466.2 L1883.3,468.9 L1883.9,471.2 L1884.5,473.2 L1885.2,476.7 L1885.6,479.4 L1886.0,481.5 L1886.4,484.3 L1886.8,486.8 L1887.2,489.4 L1887.5,491.9 L1887.9,494.1 L1888.3,497.0 L1888.7,499.8 L1889.1,501.8 L1889.5,505.1 L1889.9,507.8 L1890.2,510.4 L1890.6,513.1 L1891.1,515.3 L1891.6,517.4 L1892.2,519.7 L1892.7,522.1 L1893.2,525.0 L1893.7,527.6 L1894.3,530.4 L1894.8,531.9 L1895.3,536.0 L1895.9,538.8 L1896.4,540.5 L1896.9,543.2 L1897.5,545.6 L1898.0,548.1 L1898.5,550.4 L1899.0,553.0 L1899.6,555.3 L1900.1,558.1 L1900.6,560.7 L1901.0,563.4 L1901.5,565.5 L1902.0,568.3 L1902.4,570.9 L1902.9,573.7 L1903.4,575.7 L1903.8,578.7 L1904.3,581.5 L1904.8,584.0 L1905.2,586.2 L1905.7,588.6 L1906.2,591.3 L1906.6,594.2 L1907.1,597.1 L1907.6,599.1 L1908.2,601.3 L1909.0,604.2 L1909.8,606.7 L1910.6,608.5 L1911.4,610.9 L1912.3,613.8 L1913.1,616.8 L1913.9,618.2 L1914.7,620.6 L1915.5,623.9 L1916.3,625.6 L1917.1,628.7 L1917.9,631.4 L1918.9,633.6 L1919.9,635.3 L1920.9,638.2 L1921.9,640.5 L1922.9,643.4 L1923.9,645.0 L1924.9,648.7 L1925.9,649.3 L1926.9,652.5 L1927.6,655.3 L1928.2,658.3 L1928.8,660.2 L1929.4,663.1 L1930.0,665.2 L1930.6,668.2 L1931.3,671.7 L1932.4,672.8 L1933.8,675.4 L1935.2,676.4 L1936.3,679.9 L1936.9,682.5 L1937.4,684.7 L1937.9,686.7 L1938.4,689.7 L1938.9,692.6 L1939.4,695.2 L1939.9,697.7 L1940.4,699.2 L1940.9,702.0 L1941.4,705.4 L1942.0,707.1 L1942.5,710.4 L1943.0,713.4 L1943.5,715.6 L1944.0,718.2 L1944.5,720.2 L1945.0,722.2 L1945.7,725.1 L1946.6,727.5 L1947.5,730.1 L1948.5,733.0 L1949.4,735.0 L1950.3,737.6 L1951.0,740.1 L1951.4,742.5 L1951.8,745.7 L1952.3,747.9 L1952.7,750.3 L1953.2,752.7 L1953.6,755.1 L1954.0,758.3 L1954.5,760.6 L1954.9,762.7 L1955.4,765.3 L1955.8,768.0 L1956.3,770.5 L1956.7,773.6 L1957.1,775.5 L1957.6,778.5 L1958.0,781.0 L1958.5,783.1 L1958.9,786.0 L1959.3,788.6 L1959.8,791.5 L1961.1,793.1 L1962.4,795.9 L1963.8,796.6 L1964.6,799.6 L1965.2,803.1 L1965.8,805.9 L1966.4,808.0 L1967.0,810.2 L1967.6,813.4 L1968.2,814.7 L1968.8,817.1 L1970.2,820.7 L1971.9,823.0 L1973.6,823.1 L1975.2,823.6 L1976.9,829.3 L1978.4,830.6 L1979.5,831.9 L1980.7,834.8 L1981.9,838.0 L1983.0,837.5 L1984.2,842.4 L1985.4,845.1 L1987.1,843.7 L1988.8,848.6 L1990.6,847.9 L1992.3,853.0 L1994.0,854.6 L1995.7,858.9 L1997.4,857.6 L1998.9,857.0 L2000.4,856.0 L2001.9,852.2 L2003.3,849.1 L2005.4,851.1 L2007.5,853.2 L2009.6,853.3 L2011.7,857.0 L2013.8,859.2 L2016.3,858.8 L2018.9,861.8 L2021.5,858.5 L2024.1,861.0 L2026.7,857.9 L2029.3,859.8 L2031.9,855.1 L2034.5,858.2 L2036.8,858.9 L2038.5,860.5 L2040.2,862.2 L2042.0,864.2 L2043.9,863.3 L2045.9,859.6 L2047.9,859.8 L2049.9,858.7 L2051.9,856.9 L2054.3,856.2 L2056.8,858.6 L2059.2,861.4 L2061.7,860.7 L2064.1,860.9 L2066.1,865.0 L2067.8,866.8 L2069.5,868.7 L2071.1,871.0 L2072.8,871.2 L2074.6,872.6 L2076.9,873.7 L2079.3,870.2 L2081.7,869.5 L2084.1,869.4 L2086.5,868.6 L2088.6,868.6 L2090.6,872.0 L2092.6,872.3 L2094.6,875.0 L2096.6,877.6 L2098.4,877.3 L2099.9,874.7 L2101.3,870.5 L2102.8,867.8 L2104.3,866.3 L2105.8,865.5 L2107.3,864.8 L2108.8,860.0 L2110.3,859.0 L2112.3,858.4 L2114.4,859.9 L2116.5,862.1 L2118.7,865.2 L2120.8,866.3 L2122.9,869.7 L2124.4,864.9 L2125.8,864.3 L2127.2,862.4 L2128.5,859.4 L2129.9,857.5 L2131.3,854.1 L2132.9,855.7 L2134.5,858.3 L2136.1,860.3 L2137.7,866.4 L2139.2,865.4 L2141.4,867.8 L2143.7,864.6 L2146.0,863.2 L2148.4,862.7 L2150.6,859.2 L2152.1,858.8 L2153.5,856.3 L2154.9,852.1 L2156.4,851.8 L2157.8,850.7 L2159.5,852.2 L2161.2,855.6 L2162.8,855.4 L2164.5,858.1 L2166.2,861.0 L2167.4,858.0 L2168.3,857.1 L2169.2,853.1 L2170.1,849.5 L2171.9,851.4 L2174.3,850.2 L2176.7,852.4 L2179.1,850.9 L2181.5,854.3 L2183.9,851.7 L2185.7,853.2"/>
<path d="M498.2,2275.3 L498.2,2275.5 L498.3,2273.0 L498.4,2270.3 L498.5,2267.6 L498.6,2265.1 L498.7,2262.5 L498.7,2260.0 L498.8,2257.1 L499.1,2253.8 L500.3,2252.9 L501.4,2250.7 L502.6,2249.4 L503.8,2246.7 L504.9,2243.2 L506.1,2240.6 L506.6,2239.3 L507.0,2235.7 L507.5,2232.8 L507.9,2230.1 L508.3,2228.0 L508.8,2225.5 L509.2,2222.8 L509.7,2220.3 L510.1,2217.9 L510.6,2215.5 L511.1,2213.3 L511.8,2210.4 L512.6,2206.5 L513.3,2205.5 L514.0,2201.8 L514.8,2199.9 L515.5,2196.7 L516.2,2195.0 L517.0,2192.2 L517.7,2190.3 L518.4,2189.9 L519.2,2185.5 L519.9,2183.4 L520.8,2179.4 L521.6,2177.5 L522.5,2175.8 L523.4,2172.9 L524.2,2170.7 L525.1,2168.1 L526.0,2164.8 L526.8,2163.4 L527.7,2160.1 L528.6,2159.5 L529.4,2155.6 L530.3,2153.8 L531.3,2151.0 L532.5,2149.7 L533.7,2145.8 L535.0,2145.0 L536.2,2141.8 L537.4,2140.8 L538.7,2138.1 L539.9,2135.2 L541.1,2131.8 L542.4,2131.0 L543.6,2128.8 L545.3,2128.6 L547.0,2123.9 L548.7,2122.9 L550.4,2121.0 L552.1,2118.7 L553.8,2116.6 L555.7,2114.9 L557.9,2112.0 L560.1,2109.5 L562.2,2109.1 L564.4,2109.9 L566.7,2112.2 L569.1,2112.2 L571.5,2113.2 L573.9,2113.4 L575.6,2114.6 L577.0,2116.0 L578.5,2118.8 L579.9,2122.4 L581.3,2122.1 L582.8,2123.4 L584.2,2128.7 L585.5,2129.2 L586.3,2131.9 L587.0,2134.4 L587.8,2135.5 L588.6,2140.2 L589.3,2142.5 L590.1,2143.9 L590.9,2146.6 L591.6,2148.7 L592.4,2150.2 L594.0,2152.7 L595.8,2155.4 L597.6,2158.6 L599.5,2160.0 L601.3,2160.6 L602.0,2163.6 L602.5,2165.2 L602.9,2168.2 L603.4,2171.0 L603.8,2173.0 L604.3,2174.9 L604.7,2177.7 L605.2,2180.8 L605.6,2183.5 L606.1,2186.5 L606.6,2188.1 L607.0,2190.9 L607.5,2193.9 L608.1,2196.0 L608.7,2197.4 L609.3,2201.4 L609.9,2204.9 L610.4,2206.9 L611.0,2208.4 L611.6,2211.0 L612.2,2213.9 L612.7,2217.6 L613.3,2219.4 L613.9,2221.6 L614.5,2224.8 L615.0,2226.6 L615.6,2230.0 L616.2,2231.3 L616.9,2233.7 L617.7,2237.0 L618.4,2240.0 L619.2,2242.1 L619.9,2244.3 L620.7,2245.3 L621.4,2248.4 L622.2,2251.0 L622.9,2253.6 L623.7,2256.8 L624.4,2258.8 L625.2,2261.9 L625.9,2264.1 L626.6,2266.2 L627.4,2269.0 L628.3,2271.7 L629.2,2274.5 L630.1,2276.0 L630.9,2278.5 L631.8,2280.1 L632.7,2284.7 L633.6,2287.3 L634.4,2288.5 L635.3,2290.6 L636.2,2291.6 L638.2,2295.0 L640.3,2297.0 L642.3,2302.2 L644.3,2300.8 L645.9,2301.0 L647.1,2301.6 L648.2,2307.6 L649.4,2309.2 L650.5,2309.6 L651.7,2313.5 L652.9,2314.2 L654.0,2321.2 L655.0,2321.9 L655.9,2323.7 L656.8,2325.4 L657.7,2326.2 L658.5,2330.0 L659.4,2331.5 L660.3,2335.5 L661.2,2334.4 L662.5,2335.3 L664.1,2337.1 L665.8,2336.1 L667.4,2330.2 L669.1,2326.6 L671.3,2329.4 L673.5,2328.7 L675.8,2323.9 L678.0,2322.4 L679.9,2324.6 L681.8,2325.5 L683.7,2328.0 L685.6,2333.4 L687.4,2333.7 L688.7,2332.3 L690.1,2327.8 L691.4,2325.2 L692.7,2321.9 L694.1,2320.5 L695.4,2317.0 L696.8,2313.7 L698.2,2315.5 L700.3,2318.9 L702.5,2319.5 L704.6,2321.8 L706.8,2321.5 L708.7,2317.9 L710.7,2317.2 L712.6,2314.9 L714.5,2311.8 L716.5,2308.6 L718.6,2306.9 L721.2,2309.8 L723.7,2310.3 L726.3,2308.9 L727.1,2308.4 L727.4,2305.2 L727.6,2302.7 L727.8,2300.2 L728.0,2297.3 L728.2,2294.4 L728.4,2292.3 L728.6,2289.3 L729.5,2289.0 L731.5,2286.7 L733.5,2286.0 L735.6,2284.1 L737.6,2277.8 L739.1,2279.3 L740.6,2275.8 L742.0,2273.4 L743.5,2271.6 L745.0,2271.0 L746.4,2269.8 L748.5,2270.3 L751.0,2265.0 L753.5,2267.2 L756.0,2264.1 L758.6,2269.0 L761.2,2271.6 L763.8,2269.1 L766.4,2271.3 L768.9,2271.9 L770.8,2272.2 L771.6,2267.7 L772.3,2265.0 L773.1,2262.6 L773.8,2261.7 L774.6,2259.1 L775.3,2255.7 L776.1,2253.3 L776.7,2250.8 L777.3,2248.3 L777.9,2245.5 L778.6,2242.9 L779.2,2239.3 L780.4,2237.2 L782.9,2243.2 L785.4,2242.4 L787.9,2241.9 L789.8,2240.1 L791.4,2238.4 L793.0,2236.9 L794.6,2233.5 L796.2,2232.4 L797.8,2230.6 L799.4,2227.3 L800.8,2224.9 L802.1,2222.4 L803.3,2220.0 L804.6,2220.0 L805.9,2213.7 L807.4,2214.3 L809.4,2216.0 L811.5,2217.6 L813.5,2220.5 L815.5,2223.6 L816.2,2224.7 L816.5,2227.1 L816.8,2229.6 L817.0,2232.2 L817.3,2235.1 L817.6,2237.2 L818.8,2235.5 L820.9,2234.0 L823.1,2232.8 L825.3,2230.8 L827.4,2234.1 L829.7,2232.1 L832.0,2229.6 L834.3,2231.7 L836.6,2226.7 L839.0,2227.9 L841.3,2227.1 L843.5,2221.4 L845.4,2219.3 L847.2,2218.4 L849.0,2219.7 L850.9,2218.9 L852.7,2213.1 L854.6,2214.7 L856.8,2211.2 L859.0,2209.4 L861.1,2207.6 L863.3,2206.5 L865.3,2202.8 L866.7,2201.9 L868.0,2199.5 L869.4,2199.4 L870.8,2199.5 L872.2,2198.4 L873.6,2192.6 L874.9,2187.9 L876.6,2187.2 L879.1,2185.4 L881.6,2191.0 L884.1,2188.0 L886.6,2184.1 L889.1,2186.5 L891.5,2185.4 L893.6,2182.1 L895.5,2185.5 L897.3,2188.0 L899.2,2190.3 L901.1,2192.4 L903.5,2192.2 L906.1,2193.8 L908.6,2192.8 L911.2,2192.4 L913.7,2197.7 L914.8,2197.9 L915.7,2200.3 L916.6,2201.1 L917.5,2204.4 L918.3,2207.8 L919.2,2208.7 L920.1,2212.8 L921.0,2214.3 L922.2,2217.2 L923.4,2219.0 L924.7,2221.6 L925.9,2225.0 L927.2,2225.7 L928.5,2229.9 L929.7,2229.9 L930.8,2232.0 L931.5,2235.7 L932.3,2237.1 L933.1,2239.9 L933.9,2243.3 L934.6,2246.2 L935.4,2245.8 L937.1,2249.6 L939.7,2253.5 L942.3,2252.4 L944.9,2249.0 L947.2,2247.3 L948.9,2245.9 L950.6,2242.7 L952.3,2241.9 L954.0,2240.2 L955.6,2242.5 L957.3,2246.5 L958.9,2246.7 L960.5,2246.0 L962.5,2250.9 L964.7,2245.9 L967.0,2245.3 L969.3,2244.7 L971.5,2243.1 L973.8,2240.4 L976.1,2240.6 L978.4,2244.6 L980.7,2238.5 L983.1,2237.6 L985.4,2239.0 L987.7,2237.6 L990.2,2237.0 L992.8,2237.0 L995.4,2230.2 L998.0,2231.4 L1000.5,2233.6 L1003.1,2234.3 L1004.7,2233.3 L1006.3,2230.2 L1008.0,2227.0 L1009.6,2225.2 L1011.2,2222.9 L1012.8,2221.4 L1014.4,2220.1 L1016.1,2216.7 L1017.7,2213.5 L1019.8,2215.2 L1021.9,2220.3 L1024.0,2222.8 L1026.2,2223.9 L1028.4,2224.9 L1030.7,2226.0 L1032.9,2225.7 L1035.2,2228.0 L1037.5,2226.5 L1038.3,2230.1 L1039.1,2232.3 L1040.0,2235.8 L1040.8,2237.4 L1041.6,2240.1 L1042.4,2243.0 L1043.2,2246.2 L1044.1,2247.2 L1045.1,2248.6 L1047.1,2252.8 L1049.1,2251.5 L1051.1,2255.5 L1053.0,2255.7 L1055.0,2257.9 L1055.0,2256.2 L1054.7,2257.0 L1055.4,2259.0 L1056.2,2261.2 L1056.9,2265.6 L1057.7,2267.4 L1058.4,2271.7 L1059.1,2272.4 L1059.9,2274.1 L1060.6,2276.8 L1061.9,2281.0 L1063.4,2281.4 L1064.9,2283.9 L1066.4,2286.1 L1067.9,2286.3 L1069.5,2289.6 L1071.1,2290.8 L1072.8,2291.6 L1074.5,2296.5 L1076.2,2298.7 L1077.9,2299.8 L1079.5,2300.1 L1081.3,2299.5 L1083.5,2305.1 L1085.7,2306.1 L1087.6,2305.2 L1089.3,2309.4 L1091.1,2309.3 L1092.9,2313.2 L1094.7,2315.7 L1096.4,2318.2 L1098.1,2317.6 L1099.6,2315.3 L1101.2,2311.4 L1102.7,2310.0 L1104.3,2307.4 L1106.4,2309.0 L1108.7,2311.4 L1110.9,2313.6 L1113.1,2317.6 L1115.2,2308.1 L1117.2,2311.1 L1119.2,2309.0 L1121.3,2311.9 L1123.4,2308.9 L1125.9,2302.2 L1128.3,2304.8 L1130.7,2302.5 L1132.3,2302.8 L1133.5,2298.4 L1134.6,2296.7 L1135.7,2294.4 L1136.8,2292.1 L1137.5,2289.4 L1138.1,2286.3 L1138.6,2284.8 L1139.2,2282.7 L1139.8,2279.7 L1140.3,2276.6 L1140.9,2274.6 L1141.4,2272.3 L1142.0,2269.4 L1142.6,2266.9 L1143.7,2266.0 L1144.8,2261.3 L1146.0,2259.2 L1147.2,2255.4 L1148.5,2254.0 L1150.3,2252.1 L1152.1,2249.9 L1154.0,2248.5 L1155.7,2250.4 L1157.3,2246.0 L1158.9,2243.7 L1160.4,2244.0 L1161.2,2239.4 L1161.7,2235.9 L1162.3,2234.3 L1162.8,2231.2 L1163.4,2229.8 L1163.9,2226.1 L1164.5,2223.7 L1165.0,2220.7 L1165.6,2218.9 L1166.1,2215.9 L1166.6,2213.8 L1167.1,2211.1 L1167.6,2208.5 L1168.1,2206.6 L1168.7,2204.1 L1169.2,2201.2 L1169.7,2198.2 L1170.2,2195.5 L1170.7,2193.5 L1171.2,2192.0 L1171.7,2188.3 L1172.2,2185.5 L1172.7,2182.9 L1173.2,2180.2 L1173.8,2177.6 L1174.3,2175.4 L1174.9,2173.7 L1175.4,2170.6 L1176.0,2167.8 L1176.5,2164.6 L1177.0,2162.9 L1177.6,2160.4 L1178.1,2157.2 L1178.7,2154.7 L1179.2,2152.6 L1179.7,2150.6 L1180.1,2148.0 L1180.6,2145.2 L1181.1,2142.4 L1181.6,2140.1 L1182.1,2137.4 L1182.5,2135.8 L1183.0,2132.0 L1183.5,2129.5 L1184.0,2127.7 L1184.5,2124.6 L1184.9,2122.7 L1185.4,2119.6 L1185.9,2117.0 L1186.4,2114.3 L1186.9,2111.2 L1187.3,2108.8 L1187.8,2107.6 L1188.3,2104.6 L1188.8,2101.9 L1189.3,2099.5 L1189.7,2096.8 L1190.1,2094.3 L1190.5,2091.3 L1190.9,2088.7 L1191.3,2086.6 L1191.7,2083.6 L1192.1,2080.6 L1192.4,2078.4 L1192.8,2075.7 L1193.2,2073.6 L1193.6,2070.6 L1194.0,2067.8 L1194.4,2065.5 L1194.8,2063.6 L1195.1,2060.6 L1195.6,2058.0 L1196.0,2055.4 L1196.4,2052.9 L1196.8,2050.6 L1197.3,2048.3 L1197.7,2044.6 L1198.1,2043.0 L1198.6,2040.1 L1199.0,2037.3 L1199.4,2035.8 L1199.8,2032.4 L1200.3,2030.5 L1200.7,2027.7 L1201.2,2024.3 L1201.7,2022.2 L1202.2,2019.9 L1202.7,2017.0 L1203.2,2013.4 L1203.7,2011.6 L1204.3,2009.2 L1204.8,2006.3 L1205.3,2005.0 L1205.8,2001.7 L1206.3,1999.0 L1206.8,1996.4 L1207.3,1993.7 L1207.8,1991.1 L1208.4,1988.9 L1208.9,1986.6 L1209.5,1983.6 L1210.1,1981.3 L1210.6,1978.1 L1211.2,1976.4 L1211.8,1973.4 L1212.3,1971.2 L1212.9,1968.2 L1213.4,1965.8 L1214.0,1963.6 L1214.6,1960.4 L1215.1,1959.9 L1216.0,1956.3 L1216.8,1953.6 L1217.7,1950.6 L1218.6,1949.9 L1219.5,1947.5 L1220.4,1944.2 L1221.3,1940.4 L1222.2,1937.8 L1223.7,1940.1 L1225.5,1940.3 L1227.3,1940.7 L1229.2,1942.3 L1231.2,1944.7 L1233.1,1947.9 L1235.0,1948.9 L1236.2,1951.9 L1236.6,1955.6 L1237.0,1957.9 L1237.4,1959.4 L1237.8,1962.3 L1238.2,1964.9 L1238.6,1967.4 L1239.0,1970.3 L1239.4,1972.5 L1239.8,1975.0 L1240.2,1977.5 L1240.6,1980.2 L1241.0,1983.3 L1241.3,1985.7 L1241.7,1987.6 L1242.1,1990.3 L1242.5,1992.8 L1242.9,1995.9 L1243.3,1998.4 L1243.7,2001.1 L1244.0,2003.4 L1244.4,2005.4 L1244.7,2008.6 L1245.1,2011.2 L1245.4,2013.9 L1245.7,2015.9 L1246.0,2018.8 L1246.3,2021.2 L1246.7,2023.8 L1247.0,2026.7 L1247.3,2029.3 L1247.6,2031.5 L1248.0,2033.7 L1248.4,2035.9 L1248.8,2039.1 L1249.2,2042.4 L1249.7,2044.6 L1250.1,2046.3 L1250.5,2049.3 L1251.0,2052.4 L1251.4,2055.5 L1251.8,2058.0 L1252.2,2060.2 L1252.7,2062.7 L1253.1,2064.7 L1253.5,2067.5 L1253.8,2070.1 L1254.2,2072.6 L1254.5,2075.4 L1254.9,2077.9 L1255.3,2080.7 L1255.6,2083.6 L1256.0,2086.0 L1256.3,2088.5 L1256.7,2090.8 L1257.0,2093.0 L1257.4,2095.9 L1257.7,2098.8 L1258.1,2100.9 L1258.4,2104.1 L1258.8,2106.3 L1259.2,2109.0 L1259.6,2111.4 L1260.0,2113.5 L1260.5,2117.3 L1260.9,2118.8 L1261.3,2122.0 L1261.7,2124.1 L1262.2,2126.9 L1262.6,2129.1 L1263.0,2131.8 L1263.4,2134.9 L1263.9,2137.9 L1264.3,2139.5 L1264.7,2142.2 L1265.2,2145.2 L1265.6,2147.2 L1266.1,2150.2 L1266.5,2152.2 L1266.9,2155.2 L1267.4,2157.8 L1267.8,2160.7 L1268.3,2163.0 L1268.8,2164.6 L1269.6,2168.1 L1270.5,2169.4 L1271.4,2173.1 L1272.3,2176.3 L1273.2,2178.2 L1274.0,2179.6 L1274.9,2183.1 L1275.5,2185.1 L1276.0,2187.0 L1276.4,2189.8 L1276.9,2193.2 L1277.4,2195.1 L1277.8,2197.8 L1278.3,2200.1 L1278.8,2201.9 L1279.5,2204.8 L1280.4,2208.0 L1281.2,2210.4 L1282.0,2212.6 L1282.8,2213.6 L1283.7,2218.3 L1284.4,2220.7 L1285.1,2223.3 L1285.7,2226.0 L1286.3,2227.6 L1286.9,2229.9 L1287.6,2232.9 L1288.2,2236.2 L1288.8,2237.0 L1289.5,2240.1 L1290.0,2242.5 L1290.4,2245.6 L1290.9,2248.6 L1291.3,2250.5 L1291.7,2252.6 L1292.2,2255.6 L1292.6,2258.1 L1293.1,2260.2 L1293.5,2263.6 L1293.9,2265.7 L1294.5,2268.8 L1295.1,2270.4 L1295.6,2274.0 L1296.2,2275.4 L1296.8,2279.7 L1298.7,2276.0 L1301.3,2282.6 L1303.9,2280.0 L1306.1,2276.1 L1308.2,2276.8 L1310.3,2276.6 L1312.4,2273.0 L1314.0,2271.8 L1315.3,2270.6 L1316.6,2268.0 L1317.9,2262.4 L1319.2,2262.6 L1320.5,2261.7 L1321.8,2259.6 L1323.2,2258.2 L1324.5,2254.1 L1325.8,2254.8 L1326.6,2250.8 L1327.4,2247.8 L1328.1,2245.8 L1328.8,2243.2 L1329.5,2240.2 L1330.2,2237.2 L1330.9,2235.6 L1331.6,2232.9 L1332.4,2228.9 L1333.1,2226.3 L1334.3,2225.6 L1335.7,2223.3 L1337.2,2221.3 L1338.6,2219.6 L1340.0,2216.9 L1341.0,2215.3 L1341.6,2211.5 L1342.2,2208.9 L1342.9,2206.8 L1343.5,2204.5 L1344.1,2202.1 L1344.7,2200.0 L1345.4,2196.4 L1346.0,2194.7 L1346.6,2191.9 L1347.3,2188.4 L1347.9,2186.3 L1348.5,2185.1 L1349.2,2182.0 L1349.8,2178.7 L1350.2,2175.3 L1350.7,2173.3 L1351.2,2170.8 L1351.7,2168.6 L1352.2,2167.1 L1352.6,2164.0 L1353.1,2161.2 L1353.6,2158.1 L1354.1,2155.3 L1354.5,2153.2 L1355.0,2150.6 L1355.5,2149.3 L1355.9,2145.7 L1356.3,2142.8 L1356.7,2140.9 L1357.2,2138.0 L1357.6,2134.9 L1358.0,2133.2 L1358.5,2130.2 L1358.9,2127.2 L1359.3,2125.2 L1359.7,2122.7 L1360.2,2119.9 L1360.6,2117.7 L1361.0,2115.2 L1361.4,2112.0 L1361.9,2108.9 L1362.3,2105.8 L1363.0,2104.3 L1363.8,2102.9 L1364.5,2100.5 L1365.3,2098.2 L1366.0,2096.1 L1366.7,2092.4 L1367.5,2090.5 L1368.2,2086.4 L1368.9,2084.9 L1369.2,2082.3 L1369.5,2079.6 L1369.8,2076.9 L1370.1,2074.1 L1370.3,2071.8 L1370.6,2069.5 L1370.9,2066.6 L1371.2,2064.2 L1371.5,2061.3 L1371.7,2058.9 L1372.0,2056.1 L1372.3,2053.8 L1372.6,2051.1 L1372.9,2048.6 L1373.2,2045.8 L1373.5,2042.9 L1374.0,2040.6 L1374.4,2038.6 L1374.8,2036.4 L1375.2,2033.1 L1375.7,2030.9 L1376.1,2028.3 L1376.5,2025.6 L1377.0,2022.3 L1377.4,2020.4 L1377.8,2017.4 L1378.2,2015.6 L1378.7,2012.9 L1379.0,2010.2 L1379.3,2006.8 L1379.6,2004.9 L1379.9,2002.5 L1380.2,1999.4 L1380.5,1997.3 L1380.8,1994.6 L1381.1,1991.9 L1381.4,1989.2 L1381.7,1986.5 L1382.0,1984.1 L1382.2,1982.4 L1382.5,1979.2 L1382.8,1976.5 L1383.1,1973.7 L1383.4,1971.1 L1383.7,1968.5 L1384.0,1965.8 L1384.5,1963.9 L1384.9,1960.9 L1385.4,1958.8 L1385.9,1955.5 L1386.4,1953.7 L1386.8,1950.8 L1387.3,1948.5 L1387.8,1945.7 L1388.3,1942.7 L1388.8,1941.0 L1389.2,1937.9 L1389.8,1935.4 L1390.3,1932.5 L1390.9,1930.4 L1391.5,1927.7 L1392.1,1925.4 L1392.7,1923.0 L1393.3,1919.9 L1393.8,1916.9 L1394.4,1915.3 L1395.0,1913.3 L1396.1,1911.1 L1397.1,1907.0 L1398.2,1905.9 L1399.2,1903.6 L1400.3,1901.1 L1401.3,1898.8 L1402.3,1895.9 L1402.7,1893.5 L1403.1,1891.2 L1403.4,1888.2 L1403.8,1885.0 L1404.4,1882.9 L1406.6,1882.2 L1408.8,1877.0 L1411.0,1876.9 L1413.3,1880.6 L1415.8,1880.4 L1418.2,1881.6 L1419.0,1883.0 L1419.5,1886.6 L1419.9,1889.6 L1420.4,1891.5 L1420.9,1893.7 L1421.3,1896.0 L1421.8,1899.4 L1422.3,1901.8 L1423.1,1903.6 L1423.9,1907.4 L1424.7,1909.7 L1425.6,1912.1 L1426.4,1912.8 L1427.2,1916.2 L1427.8,1919.2 L1428.1,1921.3 L1428.4,1924.3 L1428.7,1927.1 L1429.0,1929.6 L1429.3,1931.8 L1429.6,1934.3 L1429.8,1937.3 L1430.1,1939.9 L1430.4,1942.6 L1430.7,1945.2 L1431.0,1947.4 L1431.3,1949.9 L1431.7,1951.9 L1432.1,1955.3 L1432.5,1958.6 L1432.9,1960.2 L1433.4,1962.6 L1433.8,1965.6 L1434.2,1968.1 L1434.7,1970.0 L1435.1,1972.7 L1435.5,1975.2 L1435.9,1978.9 L1436.4,1980.6 L1436.8,1983.6 L1437.2,1986.7 L1437.6,1989.3 L1438.1,1991.7 L1438.5,1994.3 L1438.9,1995.8 L1439.4,1998.5 L1439.8,2001.0 L1440.2,2003.7 L1440.6,2007.4 L1441.1,2008.5 L1441.5,2011.7 L1441.9,2013.6 L1442.4,2017.3 L1443.2,2020.1 L1443.9,2021.4 L1444.7,2025.5 L1445.4,2026.9 L1446.2,2030.0 L1446.9,2031.9 L1447.7,2033.8 L1448.1,2036.5 L1448.5,2039.1 L1449.0,2042.0 L1449.4,2044.4 L1449.8,2047.8 L1450.2,2049.5 L1450.7,2051.9 L1451.1,2054.3 L1451.5,2056.9 L1451.9,2059.2 L1452.2,2061.9 L1452.6,2065.1 L1453.0,2067.5 L1453.3,2070.0 L1453.7,2072.7 L1454.1,2075.5 L1454.4,2078.0 L1454.8,2081.0 L1456.0,2081.9 L1457.8,2083.8 L1459.7,2084.6 L1461.9,2086.7 L1464.5,2085.8 L1467.0,2087.1 L1469.6,2088.2 L1472.2,2088.4 L1474.8,2088.4 L1477.4,2088.1 L1479.0,2089.8 L1479.9,2085.6 L1480.8,2082.4 L1481.7,2080.8 L1482.5,2077.5 L1483.4,2075.0 L1484.2,2073.4 L1485.0,2069.9 L1485.7,2066.2 L1486.4,2065.8 L1487.1,2064.2 L1487.8,2059.1 L1488.7,2063.6 L1489.6,2067.2 L1490.4,2067.9 L1491.3,2071.0 L1492.1,2073.2 L1493.0,2075.9 L1494.8,2071.9 L1496.8,2075.1 L1498.8,2072.3 L1500.8,2071.3 L1502.9,2068.4 L1504.2,2067.9 L1505.3,2072.5 L1506.5,2073.8 L1507.6,2077.4 L1508.7,2079.0 L1509.9,2081.8 L1511.0,2084.4 L1511.7,2087.5 L1512.3,2090.1 L1512.9,2091.7 L1513.5,2094.6 L1514.1,2098.0 L1514.6,2100.1 L1515.2,2102.0 L1515.8,2104.7 L1516.4,2107.2 L1517.0,2110.4 L1517.7,2112.5 L1518.4,2115.2 L1519.1,2118.8 L1519.8,2119.3 L1520.5,2121.7 L1521.1,2123.8 L1521.8,2126.4 L1522.4,2130.3 L1523.0,2132.7 L1523.5,2135.9 L1524.1,2136.8 L1524.6,2139.6 L1525.2,2143.3 L1525.7,2145.8 L1526.2,2148.3 L1526.8,2150.8 L1527.3,2153.0 L1528.4,2155.2 L1530.0,2157.3 L1531.5,2160.5 L1533.1,2161.4 L1533.4,2164.1 L1533.8,2167.1 L1534.2,2168.8 L1534.6,2171.4 L1535.0,2174.4 L1535.4,2176.8 L1535.8,2179.4 L1536.1,2182.7 L1536.5,2184.8 L1536.9,2187.0 L1537.3,2190.1 L1537.7,2193.2 L1538.1,2194.6 L1538.5,2197.2 L1538.8,2200.0 L1539.2,2202.4 L1539.6,2205.8 L1539.9,2208.0 L1540.3,2210.2 L1540.7,2213.0 L1541.0,2215.2 L1541.4,2217.8 L1541.8,2220.6 L1542.1,2224.3 L1542.9,2224.4 L1543.6,2228.2 L1544.4,2231.5 L1545.1,2233.7 L1545.9,2237.0 L1546.6,2238.6 L1547.4,2240.8 L1548.4,2242.9 L1549.5,2244.5 L1550.6,2249.1 L1551.7,2249.2 L1552.5,2252.3 L1553.3,2254.6 L1554.2,2256.8 L1555.0,2257.5 L1556.4,2260.9 L1558.3,2263.9 L1560.1,2265.9 L1561.9,2268.9 L1563.8,2269.3 L1564.5,2271.4 L1564.7,2274.3 L1564.9,2277.0 L1565.0,2279.3 L1565.2,2281.8 L1565.4,2284.5 L1565.6,2287.4 L1565.7,2290.0 L1565.9,2292.3 L1566.1,2295.0 L1566.4,2298.2 L1567.8,2301.5 L1569.2,2301.4 L1570.6,2303.8 L1571.9,2308.0 L1573.3,2311.8 L1574.7,2312.7 L1575.6,2312.7 L1576.0,2315.9 L1576.5,2318.2 L1576.9,2320.8 L1577.4,2323.2 L1577.9,2325.8 L1578.3,2328.5 L1578.8,2331.8 L1579.2,2334.1 L1579.7,2336.5 L1580.1,2338.8 L1580.6,2341.0 L1581.1,2343.7 L1581.7,2348.1 L1584.1,2349.5 L1586.4,2352.9 L1588.8,2350.5 L1590.1,2351.4 L1590.6,2353.2 L1591.1,2356.5 L1591.7,2358.2 L1592.2,2362.9 L1593.8,2362.4 L1596.2,2364.1 L1598.6,2362.5 L1600.8,2365.5 L1601.3,2368.5 L1601.8,2372.0 L1602.3,2374.3 L1602.8,2376.2 L1603.3,2378.3 L1603.8,2381.6 L1604.3,2384.1 L1604.9,2386.3 L1605.4,2389.6 L1605.9,2391.9 L1606.4,2394.5 L1607.0,2396.7 L1607.6,2399.2 L1608.1,2401.8 L1608.7,2402.9 L1609.8,2406.3 L1611.8,2404.6 L1613.7,2398.9 L1615.7,2400.8 L1617.5,2404.8 L1619.3,2405.5 L1621.2,2408.9 L1623.0,2408.4 L1624.8,2409.2 L1626.6,2405.3 L1628.3,2403.7 L1630.0,2400.4 L1631.8,2399.6 L1633.5,2399.8 L1636.1,2401.5 L1638.6,2403.7 L1641.1,2402.2 L1643.1,2401.3 L1644.5,2405.4 L1645.9,2407.1 L1647.3,2411.6 L1648.6,2414.5 L1650.2,2415.9 L1652.4,2413.2 L1654.6,2415.0 L1656.8,2417.9 L1659.1,2417.5 L1661.6,2420.6 L1664.1,2422.0 L1666.6,2423.1 L1668.9,2422.9 L1670.9,2422.3 L1673.0,2423.7 L1675.0,2426.6 L1677.0,2430.8 L1678.7,2433.3 L1680.3,2434.5 L1682.0,2435.5 L1683.7,2437.8 L1685.3,2440.6 L1686.7,2440.4 L1687.7,2436.9 L1688.8,2432.2 L1689.8,2431.8 L1690.9,2429.4 L1692.5,2426.3 L1695.0,2427.8 L1697.6,2427.1 L1699.2,2427.5 L1699.8,2429.0 L1700.5,2432.4 L1701.2,2435.3 L1701.9,2437.6 L1702.6,2439.1 L1703.3,2442.7 L1703.9,2445.5 L1704.7,2447.7 L1705.4,2450.4 L1706.2,2452.4 L1706.9,2454.6 L1707.7,2457.8 L1708.4,2459.8 L1709.1,2462.6 L1710.2,2471.2 L1712.0,2463.9 L1713.9,2460.6 L1715.7,2455.3 L1717.7,2457.1 L1719.9,2460.3 L1722.1,2459.0 L1724.4,2460.9 L1726.4,2459.3 L1727.9,2465.4 L1729.4,2466.5 L1731.0,2470.2 L1732.5,2473.4 L1734.0,2473.7 L1735.3,2476.8 L1736.3,2478.5 L1737.2,2480.5 L1738.1,2482.8 L1739.0,2484.8 L1739.9,2488.9 L1740.9,2491.4 L1742.2,2491.6 L1743.5,2495.7 L1744.8,2496.4 L1746.1,2497.6 L1747.4,2503.1 L1749.4,2500.6 L1751.9,2506.0 L1754.4,2505.4 L1756.8,2507.4 L1759.0,2507.7 L1760.3,2510.3 L1761.6,2511.7 L1762.9,2514.1 L1764.2,2516.0 L1765.5,2519.1 L1766.7,2520.0 L1767.8,2523.5 L1768.9,2526.5 L1770.0,2527.4 L1771.1,2530.0 L1772.2,2531.4 L1773.5,2533.2 L1776.0,2533.5 L1778.4,2531.5 L1780.9,2529.3 L1783.3,2530.1 L1785.8,2530.0 L1787.9,2530.0 L1788.5,2532.3 L1789.1,2533.6 L1789.7,2537.6 L1790.3,2539.5 L1790.9,2541.6 L1791.6,2544.1 L1792.9,2547.2 L1794.2,2550.1 L1795.5,2551.0 L1796.8,2553.7 L1798.1,2553.5 L1800.0,2557.2 L1802.4,2557.9 L1804.9,2558.0 L1807.4,2561.6 L1809.6,2563.5 L1810.1,2563.9 L1810.5,2565.7 L1811.0,2569.1 L1811.5,2571.0 L1811.9,2573.6 L1812.4,2575.9 L1812.9,2578.9 L1813.4,2581.6 L1814.3,2583.9 L1815.1,2586.0 L1815.9,2588.5 L1816.7,2590.8 L1817.6,2594.2 L1818.4,2595.4 L1820.3,2595.8 L1822.8,2595.0 L1825.2,2592.9 L1827.7,2593.1 L1829.7,2591.2 L1830.6,2596.4 L1831.5,2599.6 L1833.7,2599.6 L1835.9,2604.4 L1838.1,2601.6 L1840.4,2605.0 L1842.5,2606.1 L1844.0,2602.2 L1845.5,2600.2 L1847.0,2599.7 L1848.5,2596.7 L1850.2,2596.4 L1852.0,2599.9 L1853.8,2600.2 L1855.2,2597.1 L1855.8,2596.4 L1856.5,2594.8 L1857.1,2591.9 L1857.7,2588.8 L1858.4,2585.7 L1859.0,2584.4 L1859.6,2582.7 L1860.3,2578.1 L1862.1,2573.4 L1864.3,2576.6 L1866.5,2574.0 L1868.8,2573.1 L1869.9,2571.2 L1870.5,2568.5 L1871.2,2566.7 L1871.8,2564.5 L1872.4,2561.7 L1873.1,2558.7 L1873.7,2556.9 L1874.3,2553.9 L1875.0,2551.7 L1875.6,2548.4 L1876.2,2546.6 L1876.9,2544.3 L1877.5,2542.1 L1878.1,2538.9 L1878.7,2536.5 L1879.4,2533.4 L1880.0,2531.7 L1880.8,2529.4 L1881.8,2527.4 L1882.8,2523.8 L1883.9,2520.4 L1884.9,2518.9 L1885.9,2516.5 L1886.9,2513.7 L1888.0,2512.4 L1889.0,2510.5 L1890.0,2507.7 L1891.0,2505.8 L1892.0,2502.9 L1892.9,2499.2 L1893.8,2496.9 L1894.7,2494.7 L1895.6,2493.1 L1896.5,2491.0 L1897.4,2488.0 L1898.3,2486.2 L1899.2,2482.4 L1900.1,2480.3 L1901.0,2479.1 L1901.8,2476.0 L1902.6,2473.9 L1903.4,2469.4 L1904.2,2466.8 L1905.0,2464.9 L1905.6,2463.6 L1906.3,2461.6 L1906.9,2457.9 L1907.5,2455.0 L1908.2,2452.4 L1908.8,2449.9 L1909.4,2448.2 L1909.8,2445.4 L1910.1,2443.2 L1910.3,2440.5 L1910.5,2437.6 L1910.8,2435.2 L1912.0,2433.0 L1914.4,2433.7 L1916.5,2432.4 L1917.2,2428.3 L1917.9,2426.4 L1918.6,2423.8 L1919.2,2420.9 L1919.6,2418.4 L1919.8,2415.9 L1920.0,2413.1 L1920.3,2410.4 L1920.5,2408.2 L1920.8,2405.4 L1921.0,2402.7 L1921.2,2400.3 L1921.5,2397.3 L1921.7,2395.0 L1921.9,2392.1 L1922.2,2389.7 L1922.6,2386.5 L1923.2,2384.3 L1923.8,2382.6 L1924.3,2379.6 L1924.9,2376.5 L1925.5,2375.4 L1926.1,2371.9 L1926.6,2370.1 L1927.1,2366.8 L1927.5,2363.8 L1927.9,2362.4 L1928.3,2359.2 L1928.8,2357.0 L1929.2,2354.6 L1929.6,2351.2 L1930.0,2349.0 L1930.4,2346.3 L1930.6,2343.9 L1930.8,2341.3 L1931.0,2338.4 L1931.2,2336.0 L1931.5,2334.0 L1932.9,2331.2 L1934.4,2329.7 L1934.6,2326.6 L1934.8,2324.1 L1935.1,2321.6 L1935.3,2319.0 L1935.5,2316.6 L1935.7,2314.0 L1935.9,2311.4 L1936.1,2308.7 L1936.4,2306.0 L1936.7,2303.1 L1936.9,2301.0 L1937.2,2298.7 L1937.5,2295.8 L1937.8,2293.0 L1938.0,2290.5 L1938.3,2288.2 L1938.6,2285.4 L1938.9,2282.5 L1939.1,2280.1 L1939.4,2277.4 L1939.7,2274.9 L1940.0,2272.2 L1940.2,2269.6 L1940.5,2267.5 L1940.8,2264.9 L1941.0,2261.7 L1941.3,2259.2 L1941.5,2256.7 L1941.8,2254.2 L1942.0,2251.4 L1942.3,2249.2 L1942.6,2246.2 L1942.8,2244.0 L1943.1,2241.5 L1943.3,2238.7 L1943.6,2236.0 L1943.8,2233.6 L1944.0,2231.0 L1944.3,2228.0 L1944.5,2225.5 L1944.7,2223.3 L1944.9,2220.6 L1945.2,2217.9 L1945.4,2215.2 L1945.6,2212.7 L1945.8,2210.1 L1946.1,2208.2 L1946.3,2204.9 L1946.5,2202.8 L1946.7,2200.0 L1946.9,2197.3 L1947.1,2194.7 L1947.2,2192.1 L1947.4,2189.7 L1947.6,2187.0 L1947.8,2184.3 L1947.9,2181.7 L1948.1,2179.2 L1948.3,2176.4 L1948.4,2173.9 L1948.6,2171.3 L1948.8,2168.8 L1948.9,2166.2 L1949.0,2163.4 L1949.1,2160.9 L1949.3,2158.5 L1949.4,2155.6 L1949.5,2153.0 L1949.6,2150.7 L1949.8,2148.0 L1949.9,2145.3 L1950.0,2142.6 L1950.1,2140.2 L1950.3,2137.5 L1950.4,2135.0 L1950.5,2132.4 L1950.7,2129.9 L1950.8,2127.2 L1950.9,2124.5 L1951.0,2122.0 L1951.2,2119.4 L1951.3,2116.8 L1951.4,2114.2 L1951.5,2111.6 L1951.7,2109.0 L1951.8,2106.4 L1951.9,2103.8 L1952.0,2101.4 L1952.2,2098.6 L1952.3,2096.1 L1952.4,2093.5 L1952.5,2090.9 L1952.7,2088.3 L1952.8,2085.6 L1952.9,2083.1 L1953.1,2080.5 L1953.2,2077.5 L1953.3,2075.3 L1953.4,2072.7 L1953.6,2070.3 L1953.7,2067.4 L1953.8,2064.9 L1953.9,2062.3 L1954.0,2059.6 L1954.1,2057.1 L1954.1,2054.5 L1954.2,2051.9 L1954.2,2049.2 L1954.3,2046.7 L1954.3,2044.2 L1954.4,2041.6 L1954.5,2038.8 L1954.5,2036.2 L1954.6,2033.7 L1954.6,2031.1 L1954.7,2028.5 L1954.7,2025.9 L1954.8,2023.3 L1954.8,2020.7 L1954.9,2018.1 L1954.9,2015.4 L1955.0,2012.9 L1955.0,2010.3 L1955.1,2007.7 L1955.2,2005.1 L1955.2,2002.5 L1955.3,1999.9 L1955.3,1997.3 L1955.4,1994.6 L1955.4,1992.1 L1955.5,1989.5 L1955.5,1986.8 L1955.6,1984.2 L1955.6,1981.7 L1955.7,1979.1 L1955.7,1976.4 L1955.8,1973.9 L1955.8,1971.3 L1955.9,1968.7 L1956.0,1966.1 L1956.0,1963.5 L1956.1,1960.9 L1956.1,1958.3 L1956.2,1955.7 L1956.2,1953.1 L1956.3,1950.5 L1956.3,1947.9 L1956.4,1945.3 L1956.4,1942.7 L1956.5,1940.0 L1956.5,1937.5 L1956.6,1935.0 L1956.6,1932.3 L1956.7,1929.7 L1956.8,1927.2 L1956.8,1924.5 L1957.0,1922.0 L1957.2,1919.4 L1957.5,1916.7 L1957.7,1914.0 L1957.9,1911.5 L1958.1,1908.7 L1958.3,1906.3 L1958.5,1903.7 L1958.7,1901.2 L1958.9,1898.7 L1959.1,1895.9 L1959.3,1893.6 L1959.5,1891.1 L1959.7,1888.3 L1959.9,1885.5 L1960.1,1883.1 L1960.3,1880.0 L1960.5,1877.7 L1960.7,1875.3 L1960.9,1873.0 L1961.1,1870.0 L1961.3,1867.8 L1961.5,1865.4 L1961.7,1862.7 L1961.9,1859.4 L1962.2,1857.3 L1962.4,1854.6 L1962.6,1852.1 L1962.8,1849.3 L1963.0,1850.9 L1963.2,1853.6 L1963.4,1856.5 L1963.7,1859.0 L1963.9,1861.4 L1964.1,1864.1 L1964.3,1866.8 L1964.6,1869.3 L1964.8,1871.8 L1965.0,1874.2 L1965.2,1876.8 L1965.5,1879.4 L1965.7,1882.0 L1965.9,1884.4 L1966.1,1887.0 L1966.4,1890.0 L1966.6,1892.3 L1966.8,1894.8 L1967.0,1897.6 L1967.3,1900.5 L1967.5,1903.1 L1967.7,1905.4 L1967.9,1907.8 L1968.2,1910.5 L1968.4,1913.0 L1968.6,1915.7 L1968.8,1918.5 L1969.1,1920.8 L1969.3,1923.4 L1969.5,1926.1 L1969.6,1928.8 L1969.7,1931.3 L1969.8,1933.9 L1970.0,1936.4 L1970.1,1939.0 L1970.2,1941.8 L1970.3,1944.3 L1970.4,1946.6 L1970.6,1949.6 L1970.7,1952.1 L1970.8,1954.6 L1970.9,1957.3 L1971.1,1959.6 L1971.2,1962.3 L1971.3,1965.2 L1971.4,1968.0 L1971.6,1970.6 L1971.7,1972.9 L1971.8,1975.5 L1971.9,1978.2 L1972.1,1980.6 L1972.2,1983.5 L1972.3,1985.8 L1972.4,1988.5 L1972.5,1991.0 L1972.7,1993.7 L1972.8,1996.3 L1972.9,1999.0 L1973.0,2001.4 L1973.2,2004.1 L1973.3,2006.9 L1973.4,2009.2 L1973.5,2011.9 L1973.7,2014.5 L1973.8,2017.0 L1973.9,2019.6 L1974.0,2022.4 L1974.2,2025.0 L1974.3,2027.5 L1974.4,2030.1 L1974.5,2032.5 L1974.7,2035.2 L1974.8,2038.0 L1974.9,2040.6 L1975.0,2042.9 L1975.1,2045.4 L1975.3,2048.1 L1975.4,2050.8 L1975.5,2053.4 L1975.6,2056.0 L1975.8,2058.6 L1975.9,2061.3 L1976.1,2063.9 L1976.3,2066.6 L1976.5,2068.8 L1976.7,2071.6 L1976.9,2074.3 L1977.0,2076.5 L1977.2,2079.5 L1977.4,2081.7 L1977.6,2084.3 L1977.8,2087.6 L1978.0,2090.0 L1978.2,2092.4 L1978.4,2095.2 L1978.6,2097.7 L1978.8,2099.9 L1979.0,2102.8 L1979.2,2105.5 L1979.4,2107.9 L1979.6,2110.5 L1979.8,2113.0 L1979.9,2115.8 L1980.1,2118.2 L1980.3,2120.7 L1980.5,2123.2 L1980.7,2125.8 L1980.9,2128.6 L1981.1,2131.3 L1981.3,2133.8 L1981.5,2136.2 L1981.7,2139.0 L1981.9,2141.7 L1982.1,2144.4 L1982.3,2146.7 L1982.5,2149.3 L1982.7,2152.0 L1982.8,2154.8 L1983.0,2157.2 L1983.2,2159.7 L1983.4,2162.2 L1983.6,2164.8 L1983.8,2167.7 L1984.0,2170.3 L1984.2,2173.0 L1984.5,2175.0 L1984.7,2178.0 L1984.9,2180.3 L1985.2,2183.2 L1985.4,2185.2 L1985.6,2188.1 L1985.9,2190.6 L1986.1,2193.6 L1986.3,2196.1 L1986.6,2198.9 L1986.8,2201.1 L1987.2,2204.3 L1987.5,2206.3 L1987.9,2209.5 L1988.2,2211.4 L1988.6,2213.8 L1988.9,2216.9 L1989.2,2219.1 L1989.6,2221.8 L1990.0,2223.9 L1990.4,2226.8 L1990.7,2229.5 L1991.1,2231.8 L1991.5,2234.8 L1991.9,2236.4 L1992.3,2240.0 L1992.7,2242.3 L1993.1,2245.4 L1993.4,2247.5 L1993.7,2249.9 L1994.0,2252.5 L1994.3,2255.3 L1994.6,2258.0 L1994.9,2260.3 L1995.2,2262.8 L1995.5,2265.7 L1995.8,2268.4 L1996.1,2270.3 L1996.4,2273.0 L1996.7,2275.7 L1997.1,2279.1 L1997.6,2281.7 L1998.1,2284.1 L1998.6,2286.4 L1999.1,2288.2 L1999.6,2291.7 L2000.1,2293.7 L2000.6,2296.0 L2001.1,2299.7 L2001.6,2300.9 L2002.2,2304.5 L2002.7,2306.7 L2003.2,2308.7 L2003.7,2311.7 L2004.2,2313.8 L2004.7,2316.8 L2005.2,2319.0 L2005.7,2321.3 L2006.2,2325.7 L2007.0,2326.8 L2008.0,2330.2 L2009.0,2331.7 L2010.0,2334.7 L2011.0,2335.4 L2012.1,2337.7 L2013.1,2337.4 L2014.5,2344.1 L2016.7,2345.6 L2019.0,2344.1 L2020.3,2348.6 L2021.0,2350.9 L2021.7,2354.9 L2022.4,2355.9 L2023.1,2358.6 L2023.8,2361.3 L2025.3,2363.9 L2027.1,2364.6 L2028.6,2366.1 L2029.4,2369.5 L2030.2,2372.5 L2031.0,2373.2 L2031.9,2373.7 L2033.0,2374.5 L2034.1,2374.3 L2035.3,2370.2 L2036.4,2369.3 L2037.4,2374.2 L2038.4,2377.0 L2039.6,2382.4 L2041.4,2376.6 L2043.3,2377.0 L2044.7,2371.3 L2045.9,2370.4 L2047.0,2367.4 L2048.2,2363.6 L2049.3,2362.0 L2050.5,2361.5 L2051.6,2359.2 L2052.8,2355.1 L2054.5,2358.4 L2056.5,2359.9 L2058.4,2361.7 L2060.5,2362.1 L2063.1,2362.5 L2065.6,2360.3 L2068.2,2362.1 L2070.4,2362.0 L2072.1,2358.7 L2073.9,2357.3 L2075.4,2356.0 L2076.9,2354.0 L2078.5,2353.7 L2079.8,2350.4 L2081.0,2353.5 L2082.2,2356.6 L2083.4,2358.3 L2085.0,2361.2 L2086.8,2361.8 L2089.0,2365.8 L2091.6,2362.5 L2093.9,2360.6 L2094.7,2365.6 L2095.5,2368.9 L2096.4,2367.0 L2097.1,2368.6 L2097.9,2366.4 L2098.6,2364.6 L2099.3,2362.8 L2100.4,2359.3 L2102.3,2354.8 L2104.1,2356.2 L2105.9,2356.4 L2107.5,2356.9 L2109.0,2358.5 L2110.2,2355.9 L2111.2,2356.6 L2112.3,2350.4 L2113.3,2351.0 L2114.3,2356.1 L2115.3,2358.2 L2116.4,2360.9 L2117.4,2363.0 L2118.5,2366.6 L2119.6,2368.9 L2120.7,2369.3 L2121.7,2372.5 L2122.2,2367.8 L2122.6,2364.9 L2123.1,2363.6 L2123.6,2360.5 L2124.1,2357.1 L2124.6,2355.4 L2125.1,2352.4 L2126.4,2351.2 L2127.9,2348.6 L2129.0,2345.8 L2129.4,2343.4 L2129.8,2341.4 L2130.2,2338.3 L2130.6,2336.0 L2131.0,2332.5 L2132.3,2332.8 L2134.9,2336.8 L2137.4,2334.8 L2139.4,2336.4 L2140.8,2337.5 L2142.3,2336.3 L2144.2,2335.8 L2145.9,2335.6 L2146.7,2338.4 L2147.6,2340.0 L2148.5,2343.0 L2149.8,2338.8 L2151.1,2337.3 L2152.4,2335.1 L2153.7,2331.2 L2155.5,2332.5 L2157.6,2329.8 L2159.5,2327.9 L2160.9,2325.5 L2162.4,2320.7 L2163.8,2317.2 L2164.8,2322.3 L2165.8,2326.9 L2167.3,2325.5 L2169.5,2326.3 L2171.8,2322.3 L2173.1,2320.7 L2174.1,2318.8 L2175.2,2318.1 L2176.4,2311.8 L2178.7,2315.5 L2181.1,2318.2 L2183.5,2317.0 L2184.5,2316.3" stroke-dasharray="8.8 9.76"/>
<path d="M506.2,2242.5 C507.8,2246.7 512.8,2258.2 516.3,2267.9 C519.8,2277.6 523.9,2291.2 527.2,2300.6 C530.5,2310.0 533.3,2318.6 536.3,2324.2 C539.3,2329.8 542.0,2332.4 545.4,2334.0 C548.7,2335.7 552.9,2332.3 556.3,2334.0 C559.6,2335.7 562.0,2338.3 565.4,2344.2 C568.7,2350.1 572.6,2362.7 576.2,2369.6 C579.9,2376.6 582.6,2381.7 587.1,2386.0 C591.7,2390.2 598.9,2390.2 603.5,2395.0 C608.0,2399.9 610.8,2407.4 614.4,2415.0 C618.0,2422.6 622.3,2434.1 625.3,2440.4 C628.3,2446.8 629.5,2448.9 632.5,2453.1 C635.6,2457.4 639.5,2461.6 643.4,2465.9 C647.4,2470.1 651.9,2473.1 656.2,2478.6 C660.4,2484.0 664.9,2493.2 668.9,2498.5 C672.8,2503.9 674.9,2507.8 679.8,2510.5 C684.6,2513.3 693.1,2513.0 697.9,2514.9 C702.8,2516.8 705.2,2518.5 708.8,2522.2 C712.4,2525.8 716.7,2532.9 719.7,2536.7 C722.7,2540.4 721.8,2539.9 726.6,2544.7 C731.4,2549.5 740.8,2556.4 748.4,2565.5 C756.1,2574.6 765.0,2591.3 772.6,2599.4 C780.3,2607.5 786.8,2608.4 794.4,2613.9 C802.1,2619.4 810.6,2628.5 818.6,2632.3 C826.7,2636.1 834.8,2633.3 842.9,2636.7 C850.9,2640.1 859.4,2648.4 867.1,2652.7 C874.7,2656.9 880.8,2657.3 888.9,2662.3 C896.9,2667.4 907.4,2677.8 915.5,2683.2 C923.6,2688.6 929.6,2690.2 937.3,2694.8 C945.0,2699.4 953.4,2706.1 961.5,2710.8 C969.6,2715.5 977.6,2718.8 985.7,2722.9 C993.8,2726.9 1001.9,2732.6 1009.9,2735.0 C1018.0,2737.4 1026.1,2734.7 1034.1,2737.4 C1042.2,2740.1 1050.3,2746.8 1058.4,2751.0 C1066.4,2755.2 1075.3,2758.9 1082.6,2762.6 C1089.8,2766.3 1096.7,2771.2 1101.9,2773.2 C1107.2,2775.3 1108.4,2775.4 1114.0,2774.7 C1119.7,2774.0 1129.0,2770.7 1135.8,2768.9 C1142.7,2767.1 1150.0,2766.1 1155.2,2764.0 C1160.5,2762.0 1162.5,2760.3 1167.3,2756.8 C1172.2,2753.3 1177.4,2747.3 1184.3,2743.2 C1191.1,2739.2 1200.8,2736.0 1208.5,2732.6 C1216.1,2729.2 1223.0,2725.5 1230.3,2722.9 C1237.5,2720.3 1244.4,2719.5 1252.1,2717.1 C1259.7,2714.6 1267.8,2711.3 1276.3,2708.4 C1284.7,2705.4 1294.8,2702.9 1302.9,2699.6 C1311.0,2696.4 1317.0,2691.7 1324.7,2689.0 C1332.4,2686.2 1340.8,2685.2 1348.9,2683.2 C1357.0,2681.2 1366.3,2679.1 1373.1,2676.9 C1380.0,2674.6 1384.8,2673.2 1390.1,2669.6 C1395.3,2666.0 1400.2,2661.9 1404.6,2655.1 C1409.0,2648.2 1413.1,2638.9 1416.7,2628.5 C1420.3,2618.0 1423.2,2607.9 1426.4,2592.1 C1429.6,2576.4 1432.1,2558.4 1436.1,2534.0 C1440.0,2509.7 1446.8,2468.0 1450.0,2446.1 C1453.2,2424.2 1453.3,2416.5 1455.4,2402.5 C1457.6,2388.6 1460.3,2372.9 1462.7,2362.6 C1465.1,2352.3 1466.9,2346.1 1470.0,2340.8 C1473.0,2335.5 1476.6,2332.1 1480.9,2330.6 C1485.1,2329.1 1490.9,2333.1 1495.4,2331.7 C1499.9,2330.4 1503.6,2325.7 1508.1,2322.6 C1512.7,2319.6 1518.4,2313.9 1522.6,2313.6 C1526.9,2313.3 1529.9,2315.7 1533.5,2320.8 C1537.2,2326.0 1540.8,2335.7 1544.4,2344.4 C1548.1,2353.2 1551.7,2363.8 1555.3,2373.5 C1559.0,2383.2 1562.0,2392.3 1566.2,2402.5 C1570.5,2412.8 1575.9,2425.5 1580.8,2435.2 C1585.6,2444.9 1590.1,2454.5 1595.3,2460.7 C1600.4,2466.8 1606.8,2470.8 1611.6,2472.3 C1616.5,2473.8 1619.8,2470.8 1624.3,2469.7 C1628.9,2468.7 1634.3,2465.8 1638.9,2466.1 C1643.4,2466.4 1647.3,2468.2 1651.6,2471.5 C1655.8,2474.9 1659.7,2481.5 1664.3,2486.1 C1668.8,2490.6 1674.0,2496.1 1678.8,2498.8 C1683.7,2501.5 1688.5,2501.4 1693.3,2502.4 C1698.2,2503.5 1703.0,2502.8 1707.9,2505.0 C1712.7,2507.1 1717.9,2512.3 1722.4,2515.1 C1726.9,2517.9 1730.9,2521.2 1735.1,2521.7 C1739.3,2522.2 1743.3,2519.7 1747.8,2518.0 C1752.4,2516.3 1756.3,2512.7 1762.3,2511.5 C1768.4,2510.3 1776.9,2511.8 1784.1,2510.8 C1791.4,2509.7 1798.7,2506.6 1805.9,2505.3 C1813.2,2504.1 1820.8,2504.4 1827.7,2503.1 C1834.7,2501.9 1842.3,2498.6 1847.7,2498.1 C1853.1,2497.5 1856.2,2499.2 1860.4,2499.9 C1864.6,2500.6 1868.9,2502.9 1873.1,2502.4 C1877.4,2501.9 1881.6,2499.4 1885.8,2497.0 C1890.1,2494.6 1896.2,2489.3 1898.5,2487.9 C1900.9,2486.5 1898.5,2488.7 1900.0,2488.6 C1901.5,2488.6 1904.4,2487.4 1907.3,2487.7 C1910.1,2487.9 1913.7,2489.7 1916.9,2490.1 C1920.2,2490.5 1923.4,2490.8 1926.6,2490.1 C1929.9,2489.3 1933.3,2487.3 1936.3,2485.7 C1939.3,2484.1 1942.0,2481.5 1944.8,2480.4 C1947.6,2479.3 1950.4,2478.9 1953.3,2478.9 C1956.1,2478.9 1959.1,2480.1 1961.7,2480.4 C1964.4,2480.7 1966.6,2481.4 1969.0,2480.9 C1971.4,2480.3 1973.6,2479.5 1976.3,2477.2 C1978.9,2475.0 1981.9,2470.9 1984.7,2467.6 C1987.6,2464.2 1990.4,2459.8 1993.2,2457.1 C1996.0,2454.5 1998.9,2452.5 2001.7,2451.8 C2004.5,2451.1 2007.3,2452.7 2010.2,2453.0 C2013.0,2453.3 2016.0,2454.6 2018.6,2453.8 C2021.3,2452.9 2023.5,2450.7 2025.9,2448.2 C2028.3,2445.6 2031.0,2441.3 2033.2,2438.5 C2035.4,2435.7 2037.2,2433.0 2039.2,2431.2 C2041.2,2429.5 2043.3,2428.1 2045.3,2428.1 C2047.3,2428.1 2049.3,2429.1 2051.3,2431.2 C2053.3,2433.4 2055.4,2438.0 2057.4,2440.9 C2059.4,2443.9 2061.5,2447.2 2063.4,2448.9 C2065.3,2450.6 2066.9,2451.7 2068.8,2451.3 C2070.6,2451.0 2072.4,2449.9 2074.3,2447.0 C2076.3,2444.0 2078.4,2438.3 2080.4,2433.7 C2082.4,2429.0 2084.4,2422.6 2086.4,2419.1 C2088.5,2415.6 2090.7,2413.2 2092.5,2412.6 C2094.3,2412.0 2095.5,2412.6 2097.3,2415.5 C2099.2,2418.4 2101.4,2424.4 2103.4,2430.0 C2105.4,2435.7 2107.4,2444.7 2109.4,2449.4 C2111.5,2454.1 2113.7,2457.7 2115.5,2458.4 C2117.3,2459.0 2118.7,2457.3 2120.3,2453.0 C2122.0,2448.7 2123.6,2440.3 2125.2,2432.4 C2126.8,2424.6 2128.4,2414.5 2130.0,2405.8 C2131.6,2397.1 2133.3,2386.4 2134.9,2380.4 C2136.4,2374.4 2137.8,2370.6 2139.2,2370.0 C2140.6,2369.4 2142.1,2372.4 2143.3,2376.8 C2144.6,2381.1 2145.6,2390.1 2147.0,2396.1 C2148.4,2402.2 2150.6,2405.4 2151.8,2413.1 C2153.0,2420.7 2153.4,2431.2 2154.2,2442.1 C2155.0,2453.0 2155.9,2467.2 2156.7,2478.5 C2157.5,2489.7 2158.3,2499.8 2159.1,2509.9 C2159.9,2520.0 2160.7,2530.5 2161.5,2539.0 C2162.3,2547.5 2163.2,2556.3 2163.9,2560.8 C2164.6,2565.2 2165.0,2565.6 2165.6,2565.6 C2166.2,2565.6 2166.8,2566.0 2167.6,2560.8 C2168.3,2555.5 2169.2,2545.8 2170.0,2534.1 C2170.8,2522.4 2171.6,2507.9 2172.4,2490.6 C2173.2,2473.2 2174.1,2450.2 2174.8,2430.0 C2175.5,2409.8 2176.0,2391.4 2176.5,2369.5 C2177.0,2347.6 2177.7,2310.6 2178.0,2298.8"/>
</g>
</svg>
</body></html>
